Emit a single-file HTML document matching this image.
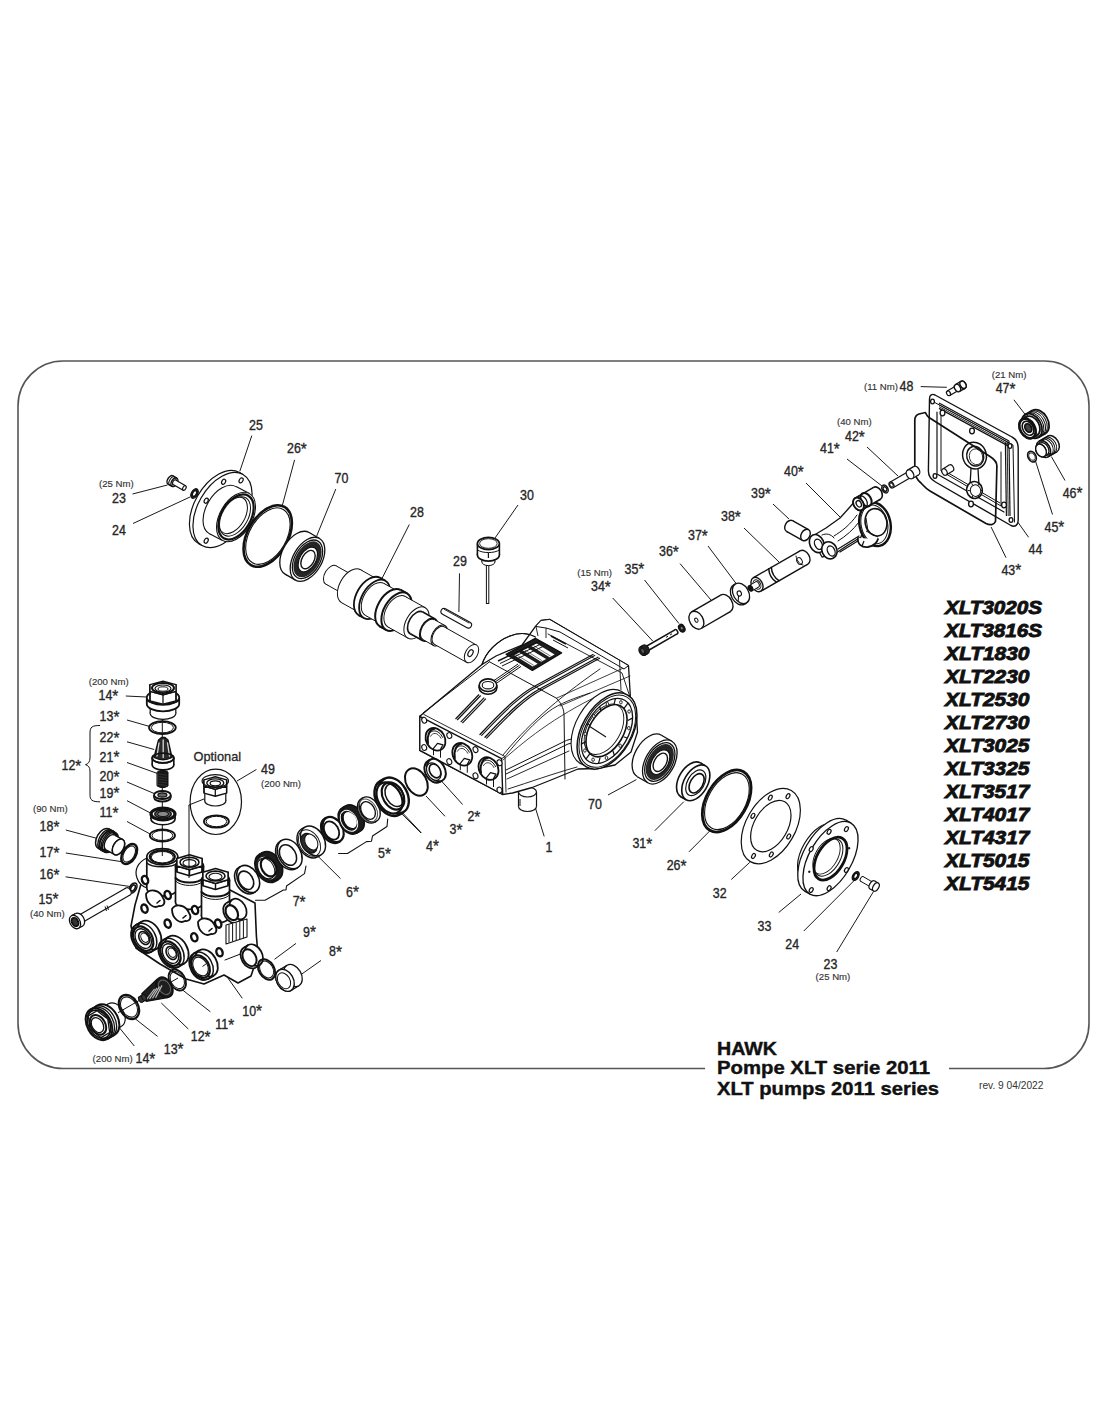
<!DOCTYPE html>
<html><head><meta charset="utf-8"><style>
html,body{margin:0;padding:0;background:#fff;width:1100px;height:1422px;overflow:hidden}
svg{position:absolute;left:0;top:0;display:block}
text{font-family:"Liberation Sans",sans-serif}
</style></head><body>
<svg width="1100" height="1422" viewBox="0 0 1100 1422">
<path d="M705,1068.5 H63 A45,45 0 0 1 18,1023.5 V406 A45,45 0 0 1 63,361 H1044.5 A44.5,44.5 0 0 1 1089,405.5 V1023.5 A45,45 0 0 1 1044,1068.5 H949" fill="none" stroke="#555" stroke-width="1.6"/>
<line x1="251.8" y1="435.6" x2="239.8" y2="471.3" stroke="#1a1a1a" stroke-width="1.0"/>
<line x1="294.6" y1="459.8" x2="282.3" y2="505.6" stroke="#1a1a1a" stroke-width="1.0"/>
<line x1="335.8" y1="489.0" x2="316.7" y2="536.0" stroke="#1a1a1a" stroke-width="1.0"/>
<line x1="132.5" y1="494.0" x2="167.5" y2="485.0" stroke="#1a1a1a" stroke-width="1.0"/>
<line x1="133.0" y1="523.5" x2="190.0" y2="497.0" stroke="#1a1a1a" stroke-width="1.0"/>
<line x1="409.3" y1="524.5" x2="380.5" y2="581.4" stroke="#1a1a1a" stroke-width="1.0"/>
<line x1="518.0" y1="505.0" x2="495.0" y2="538.0" stroke="#1a1a1a" stroke-width="1.0"/>
<line x1="459.5" y1="573.4" x2="458.9" y2="612.0" stroke="#1a1a1a" stroke-width="1.0"/>
<line x1="612.7" y1="598.0" x2="652.7" y2="641.0" stroke="#1a1a1a" stroke-width="1.0"/>
<line x1="644.5" y1="580.0" x2="679.0" y2="623.6" stroke="#1a1a1a" stroke-width="1.0"/>
<line x1="680.0" y1="563.6" x2="711.0" y2="600.0" stroke="#1a1a1a" stroke-width="1.0"/>
<line x1="708.0" y1="546.0" x2="738.0" y2="586.0" stroke="#1a1a1a" stroke-width="1.0"/>
<line x1="744.0" y1="528.0" x2="779.0" y2="562.0" stroke="#1a1a1a" stroke-width="1.0"/>
<line x1="773.0" y1="504.0" x2="789.0" y2="519.0" stroke="#1a1a1a" stroke-width="1.0"/>
<line x1="806.0" y1="483.0" x2="840.0" y2="517.0" stroke="#1a1a1a" stroke-width="1.0"/>
<line x1="847.0" y1="459.0" x2="882.0" y2="486.0" stroke="#1a1a1a" stroke-width="1.0"/>
<line x1="867.0" y1="447.0" x2="898.0" y2="476.0" stroke="#1a1a1a" stroke-width="1.0"/>
<line x1="920.7" y1="386.6" x2="946.8" y2="387.3" stroke="#1a1a1a" stroke-width="1.0"/>
<line x1="1013.9" y1="399.8" x2="1025.2" y2="414.5" stroke="#1a1a1a" stroke-width="1.0"/>
<line x1="1065.0" y1="480.5" x2="1051.4" y2="456.6" stroke="#1a1a1a" stroke-width="1.0"/>
<line x1="1052.5" y1="514.5" x2="1035.5" y2="461.0" stroke="#1a1a1a" stroke-width="1.0"/>
<line x1="1028.6" y1="537.3" x2="1017.3" y2="521.4" stroke="#1a1a1a" stroke-width="1.0"/>
<line x1="1006.0" y1="557.7" x2="991.1" y2="527.0" stroke="#1a1a1a" stroke-width="1.0"/>
<line x1="534.7" y1="805.6" x2="544.2" y2="836.4" stroke="#1a1a1a" stroke-width="1.0"/>
<line x1="608.0" y1="795.0" x2="636.4" y2="779.6" stroke="#1a1a1a" stroke-width="1.0"/>
<line x1="462.6" y1="804.5" x2="440.2" y2="779.6" stroke="#1a1a1a" stroke-width="1.0"/>
<line x1="445.0" y1="816.3" x2="426.0" y2="796.0" stroke="#1a1a1a" stroke-width="1.0"/>
<line x1="421.3" y1="832.8" x2="402.4" y2="812.7" stroke="#1a1a1a" stroke-width="1.0"/>
<line x1="654.8" y1="830.7" x2="683.8" y2="801.7" stroke="#1a1a1a" stroke-width="1.0"/>
<line x1="689.0" y1="851.8" x2="710.0" y2="830.7" stroke="#1a1a1a" stroke-width="1.0"/>
<line x1="731.3" y1="879.5" x2="749.7" y2="862.4" stroke="#1a1a1a" stroke-width="1.0"/>
<line x1="778.7" y1="912.5" x2="801.0" y2="894.0" stroke="#1a1a1a" stroke-width="1.0"/>
<line x1="803.8" y1="931.0" x2="853.9" y2="880.8" stroke="#1a1a1a" stroke-width="1.0"/>
<line x1="836.7" y1="952.0" x2="873.6" y2="891.4" stroke="#1a1a1a" stroke-width="1.0"/>
<line x1="125.8" y1="696.0" x2="146.6" y2="697.0" stroke="#1a1a1a" stroke-width="1.0"/>
<line x1="127.0" y1="720.0" x2="149.8" y2="726.5" stroke="#1a1a1a" stroke-width="1.0"/>
<line x1="127.0" y1="741.8" x2="154.2" y2="749.5" stroke="#1a1a1a" stroke-width="1.0"/>
<line x1="127.0" y1="762.5" x2="157.5" y2="773.5" stroke="#1a1a1a" stroke-width="1.0"/>
<line x1="127.0" y1="782.0" x2="155.3" y2="794.0" stroke="#1a1a1a" stroke-width="1.0"/>
<line x1="127.0" y1="800.7" x2="152.0" y2="813.8" stroke="#1a1a1a" stroke-width="1.0"/>
<line x1="127.0" y1="821.5" x2="151.0" y2="834.5" stroke="#1a1a1a" stroke-width="1.0"/>
<line x1="256.4" y1="769.5" x2="237.0" y2="781.0" stroke="#1a1a1a" stroke-width="1.0"/>
<line x1="65.8" y1="830.0" x2="103.0" y2="840.0" stroke="#1a1a1a" stroke-width="1.0"/>
<line x1="65.8" y1="853.0" x2="122.5" y2="861.8" stroke="#1a1a1a" stroke-width="1.0"/>
<line x1="65.6" y1="876.8" x2="130.6" y2="886.6" stroke="#1a1a1a" stroke-width="1.0"/>
<line x1="340.5" y1="878.6" x2="317.7" y2="856.0" stroke="#1a1a1a" stroke-width="1.0"/>
<line x1="421.0" y1="833.0" x2="399.5" y2="811.6" stroke="#1a1a1a" stroke-width="1.0"/>
<line x1="296.0" y1="943.4" x2="274.5" y2="959.3" stroke="#1a1a1a" stroke-width="1.0"/>
<line x1="321.0" y1="960.5" x2="298.4" y2="976.4" stroke="#1a1a1a" stroke-width="1.0"/>
<line x1="242.3" y1="998.3" x2="224.0" y2="972.5" stroke="#1a1a1a" stroke-width="1.0"/>
<line x1="210.4" y1="1011.8" x2="182.2" y2="989.7" stroke="#1a1a1a" stroke-width="1.0"/>
<line x1="188.3" y1="1029.0" x2="161.3" y2="1003.0" stroke="#1a1a1a" stroke-width="1.0"/>
<line x1="157.6" y1="1036.4" x2="135.5" y2="1019.0" stroke="#1a1a1a" stroke-width="1.0"/>
<line x1="134.3" y1="1046.0" x2="118.4" y2="1026.5" stroke="#1a1a1a" stroke-width="1.0"/>
<text transform="translate(249.0,429.5) scale(0.9,1)" font-size="13.8" fill="#262626" stroke="#262626" stroke-width="0.35">25</text>
<text transform="translate(287.0,453.0) scale(0.9,1)" font-size="13.8" fill="#262626" stroke="#262626" stroke-width="0.35">26<tspan font-size="17" dy="1.6">*</tspan></text>
<text transform="translate(334.5,482.7) scale(0.9,1)" font-size="13.8" fill="#262626" stroke="#262626" stroke-width="0.35">70</text>
<text transform="translate(112.0,503.0) scale(0.9,1)" font-size="13.8" fill="#262626" stroke="#262626" stroke-width="0.35">23</text>
<text transform="translate(112.0,534.6) scale(0.9,1)" font-size="13.8" fill="#262626" stroke="#262626" stroke-width="0.35">24</text>
<text transform="translate(410.0,516.6) scale(0.9,1)" font-size="13.8" fill="#262626" stroke="#262626" stroke-width="0.35">28</text>
<text transform="translate(520.0,499.5) scale(0.9,1)" font-size="13.8" fill="#262626" stroke="#262626" stroke-width="0.35">30</text>
<text transform="translate(453.0,565.5) scale(0.9,1)" font-size="13.8" fill="#262626" stroke="#262626" stroke-width="0.35">29</text>
<text transform="translate(591.0,591.0) scale(0.9,1)" font-size="13.8" fill="#262626" stroke="#262626" stroke-width="0.35">34<tspan font-size="17" dy="1.6">*</tspan></text>
<text transform="translate(624.5,573.6) scale(0.9,1)" font-size="13.8" fill="#262626" stroke="#262626" stroke-width="0.35">35<tspan font-size="17" dy="1.6">*</tspan></text>
<text transform="translate(659.0,556.4) scale(0.9,1)" font-size="13.8" fill="#262626" stroke="#262626" stroke-width="0.35">36<tspan font-size="17" dy="1.6">*</tspan></text>
<text transform="translate(688.0,540.0) scale(0.9,1)" font-size="13.8" fill="#262626" stroke="#262626" stroke-width="0.35">37<tspan font-size="17" dy="1.6">*</tspan></text>
<text transform="translate(721.0,521.0) scale(0.9,1)" font-size="13.8" fill="#262626" stroke="#262626" stroke-width="0.35">38<tspan font-size="17" dy="1.6">*</tspan></text>
<text transform="translate(751.0,498.0) scale(0.9,1)" font-size="13.8" fill="#262626" stroke="#262626" stroke-width="0.35">39<tspan font-size="17" dy="1.6">*</tspan></text>
<text transform="translate(784.0,476.0) scale(0.9,1)" font-size="13.8" fill="#262626" stroke="#262626" stroke-width="0.35">40<tspan font-size="17" dy="1.6">*</tspan></text>
<text transform="translate(820.0,453.0) scale(0.9,1)" font-size="13.8" fill="#262626" stroke="#262626" stroke-width="0.35">41<tspan font-size="17" dy="1.6">*</tspan></text>
<text transform="translate(845.0,441.0) scale(0.9,1)" font-size="13.8" fill="#262626" stroke="#262626" stroke-width="0.35">42<tspan font-size="17" dy="1.6">*</tspan></text>
<text transform="translate(899.5,390.7) scale(0.9,1)" font-size="13.8" fill="#262626" stroke="#262626" stroke-width="0.35">48</text>
<text transform="translate(995.7,393.0) scale(0.9,1)" font-size="13.8" fill="#262626" stroke="#262626" stroke-width="0.35">47<tspan font-size="17" dy="1.6">*</tspan></text>
<text transform="translate(1062.7,497.5) scale(0.9,1)" font-size="13.8" fill="#262626" stroke="#262626" stroke-width="0.35">46<tspan font-size="17" dy="1.6">*</tspan></text>
<text transform="translate(1044.5,531.6) scale(0.9,1)" font-size="13.8" fill="#262626" stroke="#262626" stroke-width="0.35">45<tspan font-size="17" dy="1.6">*</tspan></text>
<text transform="translate(1028.6,554.3) scale(0.9,1)" font-size="13.8" fill="#262626" stroke="#262626" stroke-width="0.35">44</text>
<text transform="translate(1001.4,574.8) scale(0.9,1)" font-size="13.8" fill="#262626" stroke="#262626" stroke-width="0.35">43<tspan font-size="17" dy="1.6">*</tspan></text>
<text transform="translate(545.4,851.7) scale(0.9,1)" font-size="13.8" fill="#262626" stroke="#262626" stroke-width="0.35">1</text>
<text transform="translate(588.0,809.0) scale(0.9,1)" font-size="13.8" fill="#262626" stroke="#262626" stroke-width="0.35">70</text>
<text transform="translate(467.4,821.0) scale(0.9,1)" font-size="13.8" fill="#262626" stroke="#262626" stroke-width="0.35">2<tspan font-size="17" dy="1.6">*</tspan></text>
<text transform="translate(449.6,834.0) scale(0.9,1)" font-size="13.8" fill="#262626" stroke="#262626" stroke-width="0.35">3<tspan font-size="17" dy="1.6">*</tspan></text>
<text transform="translate(426.0,850.5) scale(0.9,1)" font-size="13.8" fill="#262626" stroke="#262626" stroke-width="0.35">4<tspan font-size="17" dy="1.6">*</tspan></text>
<text transform="translate(632.4,848.0) scale(0.9,1)" font-size="13.8" fill="#262626" stroke="#262626" stroke-width="0.35">31<tspan font-size="17" dy="1.6">*</tspan></text>
<text transform="translate(666.7,870.3) scale(0.9,1)" font-size="13.8" fill="#262626" stroke="#262626" stroke-width="0.35">26<tspan font-size="17" dy="1.6">*</tspan></text>
<text transform="translate(712.8,898.0) scale(0.9,1)" font-size="13.8" fill="#262626" stroke="#262626" stroke-width="0.35">32</text>
<text transform="translate(757.6,931.0) scale(0.9,1)" font-size="13.8" fill="#262626" stroke="#262626" stroke-width="0.35">33</text>
<text transform="translate(785.3,949.4) scale(0.9,1)" font-size="13.8" fill="#262626" stroke="#262626" stroke-width="0.35">24</text>
<text transform="translate(823.5,969.1) scale(0.9,1)" font-size="13.8" fill="#262626" stroke="#262626" stroke-width="0.35">23</text>
<text transform="translate(98.5,700.4) scale(0.9,1)" font-size="13.8" fill="#262626" stroke="#262626" stroke-width="0.35">14<tspan font-size="17" dy="1.6">*</tspan></text>
<text transform="translate(99.6,721.0) scale(0.9,1)" font-size="13.8" fill="#262626" stroke="#262626" stroke-width="0.35">13<tspan font-size="17" dy="1.6">*</tspan></text>
<text transform="translate(99.6,742.0) scale(0.9,1)" font-size="13.8" fill="#262626" stroke="#262626" stroke-width="0.35">22<tspan font-size="17" dy="1.6">*</tspan></text>
<text transform="translate(99.6,761.5) scale(0.9,1)" font-size="13.8" fill="#262626" stroke="#262626" stroke-width="0.35">21<tspan font-size="17" dy="1.6">*</tspan></text>
<text transform="translate(99.6,781.0) scale(0.9,1)" font-size="13.8" fill="#262626" stroke="#262626" stroke-width="0.35">20<tspan font-size="17" dy="1.6">*</tspan></text>
<text transform="translate(99.6,797.5) scale(0.9,1)" font-size="13.8" fill="#262626" stroke="#262626" stroke-width="0.35">19<tspan font-size="17" dy="1.6">*</tspan></text>
<text transform="translate(99.6,817.0) scale(0.9,1)" font-size="13.8" fill="#262626" stroke="#262626" stroke-width="0.35">11<tspan font-size="17" dy="1.6">*</tspan></text>
<text transform="translate(61.5,770.0) scale(0.9,1)" font-size="13.8" fill="#262626" stroke="#262626" stroke-width="0.35">12<tspan font-size="17" dy="1.6">*</tspan></text>
<text transform="translate(261.0,774.0) scale(0.9,1)" font-size="13.8" fill="#262626" stroke="#262626" stroke-width="0.35">49</text>
<text transform="translate(39.6,831.3) scale(0.9,1)" font-size="13.8" fill="#262626" stroke="#262626" stroke-width="0.35">18<tspan font-size="17" dy="1.6">*</tspan></text>
<text transform="translate(39.6,857.0) scale(0.9,1)" font-size="13.8" fill="#262626" stroke="#262626" stroke-width="0.35">17<tspan font-size="17" dy="1.6">*</tspan></text>
<text transform="translate(39.6,879.0) scale(0.9,1)" font-size="13.8" fill="#262626" stroke="#262626" stroke-width="0.35">16<tspan font-size="17" dy="1.6">*</tspan></text>
<text transform="translate(38.6,903.8) scale(0.9,1)" font-size="13.8" fill="#262626" stroke="#262626" stroke-width="0.35">15<tspan font-size="17" dy="1.6">*</tspan></text>
<text transform="translate(292.7,906.0) scale(0.9,1)" font-size="13.8" fill="#262626" stroke="#262626" stroke-width="0.35">7<tspan font-size="17" dy="1.6">*</tspan></text>
<text transform="translate(346.0,896.8) scale(0.9,1)" font-size="13.8" fill="#262626" stroke="#262626" stroke-width="0.35">6<tspan font-size="17" dy="1.6">*</tspan></text>
<text transform="translate(378.0,858.0) scale(0.9,1)" font-size="13.8" fill="#262626" stroke="#262626" stroke-width="0.35">5<tspan font-size="17" dy="1.6">*</tspan></text>
<text transform="translate(303.0,936.6) scale(0.9,1)" font-size="13.8" fill="#262626" stroke="#262626" stroke-width="0.35">9<tspan font-size="17" dy="1.6">*</tspan></text>
<text transform="translate(329.0,956.0) scale(0.9,1)" font-size="13.8" fill="#262626" stroke="#262626" stroke-width="0.35">8<tspan font-size="17" dy="1.6">*</tspan></text>
<text transform="translate(242.3,1015.5) scale(0.9,1)" font-size="13.8" fill="#262626" stroke="#262626" stroke-width="0.35">10<tspan font-size="17" dy="1.6">*</tspan></text>
<text transform="translate(215.3,1029.0) scale(0.9,1)" font-size="13.8" fill="#262626" stroke="#262626" stroke-width="0.35">11<tspan font-size="17" dy="1.6">*</tspan></text>
<text transform="translate(190.8,1041.0) scale(0.9,1)" font-size="13.8" fill="#262626" stroke="#262626" stroke-width="0.35">12<tspan font-size="17" dy="1.6">*</tspan></text>
<text transform="translate(163.8,1053.5) scale(0.9,1)" font-size="13.8" fill="#262626" stroke="#262626" stroke-width="0.35">13<tspan font-size="17" dy="1.6">*</tspan></text>
<text transform="translate(135.5,1063.4) scale(0.9,1)" font-size="13.8" fill="#262626" stroke="#262626" stroke-width="0.35">14<tspan font-size="17" dy="1.6">*</tspan></text>
<text transform="translate(99.0,486.5) scale(0.97,1)" font-size="9.9" fill="#333" stroke="#333" stroke-width="0.15">(25 Nm)</text>
<text transform="translate(577.3,576.4) scale(0.97,1)" font-size="9.9" fill="#333" stroke="#333" stroke-width="0.15">(15 Nm)</text>
<text transform="translate(837.0,425.0) scale(0.97,1)" font-size="9.9" fill="#333" stroke="#333" stroke-width="0.15">(40 Nm)</text>
<text transform="translate(864.0,389.5) scale(0.97,1)" font-size="9.9" fill="#333" stroke="#333" stroke-width="0.15">(11 Nm)</text>
<text transform="translate(991.8,378.2) scale(0.97,1)" font-size="9.9" fill="#333" stroke="#333" stroke-width="0.15">(21 Nm)</text>
<text transform="translate(815.6,979.7) scale(0.97,1)" font-size="9.9" fill="#333" stroke="#333" stroke-width="0.15">(25 Nm)</text>
<text transform="translate(88.7,685.0) scale(0.97,1)" font-size="9.9" fill="#333" stroke="#333" stroke-width="0.15">(200 Nm)</text>
<text transform="translate(261.0,786.6) scale(0.97,1)" font-size="9.9" fill="#333" stroke="#333" stroke-width="0.15">(200 Nm)</text>
<text transform="translate(33.0,811.6) scale(0.97,1)" font-size="9.9" fill="#333" stroke="#333" stroke-width="0.15">(90 Nm)</text>
<text transform="translate(30.0,917.3) scale(0.97,1)" font-size="9.9" fill="#333" stroke="#333" stroke-width="0.15">(40 Nm)</text>
<text transform="translate(92.6,1062.0) scale(0.97,1)" font-size="9.9" fill="#333" stroke="#333" stroke-width="0.15">(200 Nm)</text>
<text transform="translate(193.5,760.5) scale(0.94,1)" font-size="13.6" fill="#262626" stroke="#262626" stroke-width="0.3">Optional</text>
<text x="945" y="614.2" font-size="19.2" font-weight="bold" font-style="italic" fill="#111" stroke="#111" stroke-width="0.9" textLength="97" lengthAdjust="spacingAndGlyphs">XLT3020S</text>
<text x="945" y="637.2" font-size="19.2" font-weight="bold" font-style="italic" fill="#111" stroke="#111" stroke-width="0.9" textLength="97" lengthAdjust="spacingAndGlyphs">XLT3816S</text>
<text x="945" y="660.1" font-size="19.2" font-weight="bold" font-style="italic" fill="#111" stroke="#111" stroke-width="0.9" textLength="84.5" lengthAdjust="spacingAndGlyphs">XLT1830</text>
<text x="945" y="683.1" font-size="19.2" font-weight="bold" font-style="italic" fill="#111" stroke="#111" stroke-width="0.9" textLength="84.5" lengthAdjust="spacingAndGlyphs">XLT2230</text>
<text x="945" y="706.1" font-size="19.2" font-weight="bold" font-style="italic" fill="#111" stroke="#111" stroke-width="0.9" textLength="84.5" lengthAdjust="spacingAndGlyphs">XLT2530</text>
<text x="945" y="729.1" font-size="19.2" font-weight="bold" font-style="italic" fill="#111" stroke="#111" stroke-width="0.9" textLength="84.5" lengthAdjust="spacingAndGlyphs">XLT2730</text>
<text x="945" y="752.0" font-size="19.2" font-weight="bold" font-style="italic" fill="#111" stroke="#111" stroke-width="0.9" textLength="84.5" lengthAdjust="spacingAndGlyphs">XLT3025</text>
<text x="945" y="775.0" font-size="19.2" font-weight="bold" font-style="italic" fill="#111" stroke="#111" stroke-width="0.9" textLength="84.5" lengthAdjust="spacingAndGlyphs">XLT3325</text>
<text x="945" y="798.0" font-size="19.2" font-weight="bold" font-style="italic" fill="#111" stroke="#111" stroke-width="0.9" textLength="84.5" lengthAdjust="spacingAndGlyphs">XLT3517</text>
<text x="945" y="820.9" font-size="19.2" font-weight="bold" font-style="italic" fill="#111" stroke="#111" stroke-width="0.9" textLength="84.5" lengthAdjust="spacingAndGlyphs">XLT4017</text>
<text x="945" y="843.9" font-size="19.2" font-weight="bold" font-style="italic" fill="#111" stroke="#111" stroke-width="0.9" textLength="84.5" lengthAdjust="spacingAndGlyphs">XLT4317</text>
<text x="945" y="866.9" font-size="19.2" font-weight="bold" font-style="italic" fill="#111" stroke="#111" stroke-width="0.9" textLength="84.5" lengthAdjust="spacingAndGlyphs">XLT5015</text>
<text x="945" y="889.8" font-size="19.2" font-weight="bold" font-style="italic" fill="#111" stroke="#111" stroke-width="0.9" textLength="84.5" lengthAdjust="spacingAndGlyphs">XLT5415</text>
<text x="717" y="1055" font-size="18.5" font-weight="bold" fill="#111" stroke="#111" stroke-width="0.4" textLength="60" lengthAdjust="spacingAndGlyphs">HAWK</text>
<text x="717" y="1074" font-size="18.5" font-weight="bold" fill="#111" stroke="#111" stroke-width="0.4" textLength="213" lengthAdjust="spacingAndGlyphs">Pompe XLT serie 2011</text>
<text x="717" y="1094.5" font-size="18.5" font-weight="bold" fill="#111" stroke="#111" stroke-width="0.4" textLength="222" lengthAdjust="spacingAndGlyphs">XLT pumps 2011 series</text>
<text x="979.0" y="1089.0" font-size="10.2" fill="#333">rev. 9 04/2022</text>
<ellipse cx="170.5" cy="480.0" rx="4.8" ry="2.9" transform="rotate(-60 170.5 480.0)" fill="#fff" stroke="#111" stroke-width="1.5"/><path d="M172.9,475.8 L176.8,478.1 L172.0,486.4 L168.1,484.2 Z" fill="#fff"/><line x1="172.9" y1="475.8" x2="176.8" y2="478.1" stroke="#111" stroke-width="1.5"/><line x1="168.1" y1="484.2" x2="172.0" y2="486.4" stroke="#111" stroke-width="1.5"/><ellipse cx="174.4" cy="482.2" rx="4.8" ry="2.9" transform="rotate(-60 174.4 482.2)" fill="#fff" stroke="#111" stroke-width="1.5"/>
<ellipse cx="172.4" cy="481.1" rx="4.8" ry="2.9" transform="rotate(-60 172.4 481.1)" fill="none" stroke="#111" stroke-width="1.0"/>
<ellipse cx="174.4" cy="482.2" rx="2.5" ry="1.5" transform="rotate(-60 174.4 482.2)" fill="#fff" stroke="#111" stroke-width="1.2"/><path d="M175.6,480.1 L185.6,485.8 L183.1,490.2 L173.1,484.4 Z" fill="#fff"/><line x1="175.6" y1="480.1" x2="185.6" y2="485.8" stroke="#111" stroke-width="1.2"/><line x1="173.1" y1="484.4" x2="183.1" y2="490.2" stroke="#111" stroke-width="1.2"/><ellipse cx="184.4" cy="488.0" rx="2.5" ry="1.5" transform="rotate(-60 184.4 488.0)" fill="#fff" stroke="#111" stroke-width="1.2"/>
<ellipse cx="194.5" cy="493.5" rx="5.2" ry="3.1" transform="rotate(-60 194.5 493.5)" fill="#222" stroke="#111" stroke-width="1.3"/><ellipse cx="194.5" cy="493.5" rx="3.0" ry="1.8" transform="rotate(-60 194.5 493.5)" fill="#fff" stroke="#111" stroke-width="1.3"/>
<ellipse cx="219.0" cy="508.0" rx="41.0" ry="24.6" transform="rotate(-60 219.0 508.0)" fill="#fff" stroke="#111" stroke-width="1.2"/><path d="M239.5,472.5 L243.0,474.5 L202.0,545.5 L198.5,543.5 Z" fill="#fff"/><line x1="239.5" y1="472.5" x2="243.0" y2="474.5" stroke="#111" stroke-width="1.2"/><line x1="198.5" y1="543.5" x2="202.0" y2="545.5" stroke="#111" stroke-width="1.2"/><ellipse cx="222.5" cy="510.0" rx="41.0" ry="24.6" transform="rotate(-60 222.5 510.0)" fill="#fff" stroke="#111" stroke-width="1.2"/>
<ellipse cx="223.6" cy="481.8" rx="2.7" ry="1.8" transform="rotate(-60 223.6 481.8)" fill="#fff" stroke="#111" stroke-width="1.2"/>
<ellipse cx="241.1" cy="480.4" rx="2.7" ry="1.8" transform="rotate(-60 241.1 480.4)" fill="#fff" stroke="#111" stroke-width="1.2"/>
<ellipse cx="206.2" cy="500.7" rx="2.7" ry="1.8" transform="rotate(-60 206.2 500.7)" fill="#fff" stroke="#111" stroke-width="1.2"/>
<ellipse cx="206.2" cy="540.7" rx="2.7" ry="1.8" transform="rotate(-60 206.2 540.7)" fill="#fff" stroke="#111" stroke-width="1.2"/>
<ellipse cx="222.5" cy="510.0" rx="27.0" ry="16.2" transform="rotate(-60 222.5 510.0)" fill="#fff" stroke="#111" stroke-width="1.1"/><path d="M236.0,486.6 L249.5,493.6 L222.5,540.4 L209.0,533.4 Z" fill="#fff"/><line x1="236.0" y1="486.6" x2="249.5" y2="493.6" stroke="#111" stroke-width="1.1"/><line x1="209.0" y1="533.4" x2="222.5" y2="540.4" stroke="#111" stroke-width="1.1"/><ellipse cx="236.0" cy="517.0" rx="27.0" ry="16.2" transform="rotate(-60 236.0 517.0)" fill="#fff" stroke="#111" stroke-width="1.1"/>
<ellipse cx="236.0" cy="517.0" rx="24.5" ry="14.7" transform="rotate(-60 236.0 517.0)" fill="#fff" stroke="#111" stroke-width="2.2"/>
<ellipse cx="235.0" cy="516.4" rx="21.5" ry="12.9" transform="rotate(-60 235.0 516.4)" fill="#fff" stroke="#111" stroke-width="1.0"/>
<ellipse cx="233.0" cy="515.3" rx="20.0" ry="12.0" transform="rotate(-60 233.0 515.3)" fill="none" stroke="#111" stroke-width="1.0"/>
<ellipse cx="267.7" cy="536.0" rx="33.5" ry="20.1" transform="rotate(-60 267.7 536.0)" fill="none" stroke="#111" stroke-width="2.6"/>
<ellipse cx="267.9" cy="536.1" rx="30.8" ry="18.5" transform="rotate(-60 267.9 536.1)" fill="none" stroke="#111" stroke-width="1.1"/>
<ellipse cx="297.1" cy="553.3" rx="24.0" ry="14.4" transform="rotate(-60 297.1 553.3)" fill="#fff" stroke="#111" stroke-width="1.3"/><path d="M309.1,532.5 L319.5,538.5 L295.5,580.1 L285.1,574.1 Z" fill="#fff"/><line x1="309.1" y1="532.5" x2="319.5" y2="538.5" stroke="#111" stroke-width="1.3"/><line x1="285.1" y1="574.1" x2="295.5" y2="580.1" stroke="#111" stroke-width="1.3"/><ellipse cx="307.5" cy="559.3" rx="24.0" ry="14.4" transform="rotate(-60 307.5 559.3)" fill="#fff" stroke="#111" stroke-width="1.3"/>
<ellipse cx="307.5" cy="559.3" rx="21.0" ry="12.6" transform="rotate(-60 307.5 559.3)" fill="#fff" stroke="#111" stroke-width="1.3"/>
<ellipse cx="307.5" cy="559.3" rx="19.5" ry="11.7" transform="rotate(-60 307.5 559.3)" fill="#262626"/>
<ellipse cx="307.8" cy="559.5" rx="13.5" ry="8.1" transform="rotate(-60 307.8 559.5)" fill="#fff" stroke="#111" stroke-width="1.2"/>
<ellipse cx="308.0" cy="559.6" rx="10.0" ry="6.0" transform="rotate(-60 308.0 559.6)" fill="#fff" stroke="#111" stroke-width="1.4"/>
<ellipse cx="331.0" cy="575.0" rx="10.5" ry="6.3" transform="rotate(-60 331.0 575.0)" fill="#fff" stroke="#111" stroke-width="1.0"/><path d="M336.2,565.9 L353.7,575.7 L343.2,593.9 L325.8,584.1 Z" fill="#fff"/><line x1="336.2" y1="565.9" x2="353.7" y2="575.7" stroke="#111" stroke-width="1.0"/><line x1="325.8" y1="584.1" x2="343.2" y2="593.9" stroke="#111" stroke-width="1.0"/><ellipse cx="348.5" cy="584.8" rx="10.5" ry="6.3" transform="rotate(-60 348.5 584.8)" fill="#fff" stroke="#111" stroke-width="1.0"/>
<ellipse cx="348.5" cy="584.8" rx="12.5" ry="7.5" transform="rotate(-60 348.5 584.8)" fill="#fff" stroke="#111" stroke-width="2.0"/><path d="M354.7,573.9 L357.3,575.4 L344.8,597.1 L342.2,595.6 Z" fill="#fff"/><line x1="354.7" y1="573.9" x2="357.3" y2="575.4" stroke="#111" stroke-width="2.0"/><line x1="342.2" y1="595.6" x2="344.8" y2="597.1" stroke="#111" stroke-width="2.0"/><ellipse cx="351.1" cy="586.2" rx="12.5" ry="7.5" transform="rotate(-60 351.1 586.2)" fill="#fff" stroke="#111" stroke-width="2.0"/>
<ellipse cx="351.1" cy="586.2" rx="19.0" ry="11.4" transform="rotate(-60 351.1 586.2)" fill="#fff" stroke="#111" stroke-width="1.0"/><path d="M360.6,569.8 L378.9,580.0 L359.9,612.9 L341.6,602.7 Z" fill="#fff"/><line x1="360.6" y1="569.8" x2="378.9" y2="580.0" stroke="#111" stroke-width="1.0"/><line x1="341.6" y1="602.7" x2="359.9" y2="612.9" stroke="#111" stroke-width="1.0"/><ellipse cx="369.4" cy="596.5" rx="19.0" ry="11.4" transform="rotate(-60 369.4 596.5)" fill="#fff" stroke="#111" stroke-width="1.0"/>
<ellipse cx="369.4" cy="596.5" rx="21.5" ry="12.9" transform="rotate(-60 369.4 596.5)" fill="#fff" stroke="#111" stroke-width="1.8"/><path d="M380.1,577.9 L385.4,580.8 L363.9,618.0 L358.6,615.1 Z" fill="#fff"/><line x1="380.1" y1="577.9" x2="385.4" y2="580.8" stroke="#111" stroke-width="1.8"/><line x1="358.6" y1="615.1" x2="363.9" y2="618.0" stroke="#111" stroke-width="1.8"/><ellipse cx="374.6" cy="599.4" rx="21.5" ry="12.9" transform="rotate(-60 374.6 599.4)" fill="#fff" stroke="#111" stroke-width="1.8"/>
<ellipse cx="374.6" cy="599.4" rx="18.5" ry="11.1" transform="rotate(-60 374.6 599.4)" fill="#fff" stroke="#111" stroke-width="1.0"/><path d="M383.9,583.4 L399.6,592.2 L381.1,624.2 L365.4,615.4 Z" fill="#fff"/><line x1="383.9" y1="583.4" x2="399.6" y2="592.2" stroke="#111" stroke-width="1.0"/><line x1="365.4" y1="615.4" x2="381.1" y2="624.2" stroke="#111" stroke-width="1.0"/><ellipse cx="390.3" cy="608.2" rx="18.5" ry="11.1" transform="rotate(-60 390.3 608.2)" fill="#fff" stroke="#111" stroke-width="1.0"/>
<ellipse cx="390.3" cy="608.2" rx="21.0" ry="12.6" transform="rotate(-60 390.3 608.2)" fill="#fff" stroke="#111" stroke-width="2.0"/><path d="M400.8,590.0 L407.0,593.4 L386.0,629.8 L379.8,626.4 Z" fill="#fff"/><line x1="400.8" y1="590.0" x2="407.0" y2="593.4" stroke="#111" stroke-width="2.0"/><line x1="379.8" y1="626.4" x2="386.0" y2="629.8" stroke="#111" stroke-width="2.0"/><ellipse cx="396.5" cy="611.6" rx="21.0" ry="12.6" transform="rotate(-60 396.5 611.6)" fill="#fff" stroke="#111" stroke-width="2.0"/>
<ellipse cx="396.5" cy="611.6" rx="17.5" ry="10.5" transform="rotate(-60 396.5 611.6)" fill="#fff" stroke="#111" stroke-width="1.0"/><path d="M405.2,596.5 L425.3,607.7 L407.8,638.0 L387.7,626.8 Z" fill="#fff"/><line x1="405.2" y1="596.5" x2="425.3" y2="607.7" stroke="#111" stroke-width="1.0"/><line x1="387.7" y1="626.8" x2="407.8" y2="638.0" stroke="#111" stroke-width="1.0"/><ellipse cx="416.5" cy="622.9" rx="17.5" ry="10.5" transform="rotate(-60 416.5 622.9)" fill="#fff" stroke="#111" stroke-width="1.0"/>
<ellipse cx="416.5" cy="622.9" rx="12.5" ry="7.5" transform="rotate(-60 416.5 622.9)" fill="#fff" stroke="#111" stroke-width="1.6"/><path d="M422.8,612.0 L435.0,618.9 L422.5,640.5 L410.3,633.7 Z" fill="#fff"/><line x1="422.8" y1="612.0" x2="435.0" y2="618.9" stroke="#111" stroke-width="1.6"/><line x1="410.3" y1="633.7" x2="422.5" y2="640.5" stroke="#111" stroke-width="1.6"/><ellipse cx="428.7" cy="629.7" rx="12.5" ry="7.5" transform="rotate(-60 428.7 629.7)" fill="#fff" stroke="#111" stroke-width="1.6"/>
<ellipse cx="428.7" cy="629.7" rx="11.5" ry="6.9" transform="rotate(-60 428.7 629.7)" fill="#fff" stroke="#111" stroke-width="1.0"/><path d="M434.5,619.7 L445.0,625.6 L433.5,645.5 L423.0,639.6 Z" fill="#fff"/><line x1="434.5" y1="619.7" x2="445.0" y2="625.6" stroke="#111" stroke-width="1.0"/><line x1="423.0" y1="639.6" x2="433.5" y2="645.5" stroke="#111" stroke-width="1.0"/><ellipse cx="439.2" cy="635.5" rx="11.5" ry="6.9" transform="rotate(-60 439.2 635.5)" fill="#fff" stroke="#111" stroke-width="1.0"/>
<ellipse cx="439.2" cy="635.5" rx="10.0" ry="6.0" transform="rotate(-60 439.2 635.5)" fill="#fff" stroke="#111" stroke-width="1.0"/><path d="M444.2,626.9 L476.5,645.0 L466.5,662.3 L434.2,644.2 Z" fill="#fff"/><line x1="444.2" y1="626.9" x2="476.5" y2="645.0" stroke="#111" stroke-width="1.0"/><line x1="434.2" y1="644.2" x2="466.5" y2="662.3" stroke="#111" stroke-width="1.0"/><ellipse cx="471.5" cy="653.6" rx="10.0" ry="6.0" transform="rotate(-60 471.5 653.6)" fill="#fff" stroke="#111" stroke-width="1.0"/>
<ellipse cx="470.5" cy="653.1" rx="3.6" ry="2.2" transform="rotate(-60 470.5 653.1)" fill="#fff" stroke="#111" stroke-width="1.2"/>
<path d="M444,611.5 L468.5,625" fill="none" stroke="#111" stroke-width="7.2" stroke-linejoin="round" stroke-linecap="round"/>
<path d="M444,611.5 L468.5,625" fill="none" stroke="#fff" stroke-width="5.0" stroke-linejoin="round" stroke-linecap="round"/>
<path d="M444.5,609.5 L469,623" fill="none" stroke="#111" stroke-width="0.9" stroke-linejoin="round" stroke-linecap="round"/>
<line x1="487.6" y1="560.0" x2="487.6" y2="604.0" stroke="#111" stroke-width="3.4"/>
<line x1="487.6" y1="560.0" x2="487.6" y2="603.0" stroke="#fff" stroke-width="1.4"/>
<ellipse cx="488.4" cy="562.0" rx="6.5" ry="3.6" fill="#fff" stroke="#111" stroke-width="1.0"/><path d="M494.9,556.0 L494.9,562.0 L481.9,562.0 L481.9,556.0 Z" fill="#fff"/><line x1="494.9" y1="556.0" x2="494.9" y2="562.0" stroke="#111" stroke-width="1.0"/><line x1="481.9" y1="556.0" x2="481.9" y2="562.0" stroke="#111" stroke-width="1.0"/><ellipse cx="488.4" cy="556.0" rx="6.5" ry="3.6" fill="#fff" stroke="#111" stroke-width="1.0"/>
<ellipse cx="488.4" cy="555.0" rx="11.0" ry="6.1" fill="#fff" stroke="#111" stroke-width="1.6"/><path d="M499.4,543.5 L499.4,555.0 L477.4,555.0 L477.4,543.5 Z" fill="#fff"/><line x1="499.4" y1="543.5" x2="499.4" y2="555.0" stroke="#111" stroke-width="1.6"/><line x1="477.4" y1="543.5" x2="477.4" y2="555.0" stroke="#111" stroke-width="1.6"/><ellipse cx="488.4" cy="543.5" rx="11.0" ry="6.1" fill="#fff" stroke="#111" stroke-width="1.6"/>
<ellipse cx="488.4" cy="543.5" rx="8.8" ry="4.8" fill="none" stroke="#111" stroke-width="0.9"/>
<line x1="488.4" y1="552.5" x2="488.4" y2="558.0" stroke="#111" stroke-width="1.2"/>
<path d="M477.6,550 C482,553.5 495,553.5 499.2,550" fill="none" stroke="#111" stroke-width="1.0" stroke-linejoin="round" stroke-linecap="round"/>
<ellipse cx="527.5" cy="806.5" rx="9.0" ry="5.0" fill="#fff" stroke="#111" stroke-width="1.2"/><path d="M536.5,806.5 L536.5,792.0 L518.5,792.0 L518.5,806.5 Z" fill="#fff"/><line x1="536.5" y1="806.5" x2="536.5" y2="792.0" stroke="#111" stroke-width="1.2"/><line x1="518.5" y1="806.5" x2="518.5" y2="792.0" stroke="#111" stroke-width="1.2"/><ellipse cx="527.5" cy="792.0" rx="9.0" ry="5.0" fill="#fff" stroke="#111" stroke-width="1.2"/>
<line x1="520.0" y1="799.0" x2="520.0" y2="806.0" stroke="#111" stroke-width="1.0"/>
<path d="M482,664.5 C486,652 497,641 510,636 C519,632.5 528,633 534,637" fill="#fff" stroke="#111" stroke-width="1.1" stroke-linejoin="round" stroke-linecap="round"/>
<path d="M419.8,716.3 L482.0,664.5 L496.0,656.0 L522.0,645.0 L535.5,626.4 L541.0,620.5 L549.6,619.4 L619.5,660.2 L628.5,665.6 L630.4,697.3 L636.0,708.0 L637.5,732.0 L631.0,752.0 L615.0,765.0 L597.6,768.5 L578.0,769.0 L551.0,780.0 L532.2,787.5 L512.6,793.0 L502.7,794.5 L419.8,750.4 Z" fill="#fff" stroke="#111" stroke-width="1.3" stroke-linejoin="round"/>
<path d="M482,664.5 C486,652 497,641 510,636 C519,632.5 528,633 535.5,637" fill="none" stroke="#111" stroke-width="1.1" stroke-linejoin="round" stroke-linecap="round"/>
<line x1="423.0" y1="713.0" x2="489.5" y2="661.8" stroke="#111" stroke-width="1.0"/>
<path d="M419.8,716.3 L501.6,758.6 L502.7,794.5 L419.8,750.4 Z" fill="#fff" stroke="#111" stroke-width="1.4" stroke-linejoin="round"/>
<line x1="423.5" y1="714.3" x2="505.0" y2="756.5" stroke="#111" stroke-width="0.9"/>
<line x1="501.6" y1="758.6" x2="505.0" y2="756.5" stroke="#111" stroke-width="0.9"/>
<line x1="505.0" y1="756.5" x2="506.0" y2="792.5" stroke="#111" stroke-width="0.9"/>
<ellipse cx="435.5" cy="739.3" rx="9.4" ry="11.8" transform="rotate(-28 435.5 739.3)" fill="#fff" stroke="#111" stroke-width="1.8"/>
<path d="M428.0,743.3 C426.5,736.3 429.5,729.3 434.5,728.8" fill="none" stroke="#111" stroke-width="2.0" stroke-linejoin="round" stroke-linecap="round"/>
<path d="M428.5,735.3 C430.5,729.3 438.5,728.8 442.5,737.3" fill="none" stroke="#111" stroke-width="1.0" stroke-linejoin="round" stroke-linecap="round"/>
<path d="M430.5,736.3 C432.5,732.3 437.5,731.8 441.0,738.3" fill="none" stroke="#111" stroke-width="0.8" stroke-linejoin="round" stroke-linecap="round"/>
<path d="M433.5,748.3 L437.5,743.3 L443.0,744.8 L440.5,749.3" fill="#fff" stroke="#111" stroke-width="1.2" stroke-linejoin="round" stroke-linecap="round"/>
<path d="M433.5,748.3 L433.5,754.8 M440.5,749.3 L440.5,757.3" fill="none" stroke="#111" stroke-width="1.0" stroke-linejoin="round" stroke-linecap="round"/>
<ellipse cx="462.3" cy="754.3" rx="9.4" ry="11.8" transform="rotate(-28 462.3 754.3)" fill="#fff" stroke="#111" stroke-width="1.8"/>
<path d="M454.8,758.3 C453.3,751.3 456.3,744.3 461.3,743.8" fill="none" stroke="#111" stroke-width="2.0" stroke-linejoin="round" stroke-linecap="round"/>
<path d="M455.3,750.3 C457.3,744.3 465.3,743.8 469.3,752.3" fill="none" stroke="#111" stroke-width="1.0" stroke-linejoin="round" stroke-linecap="round"/>
<path d="M457.3,751.3 C459.3,747.3 464.3,746.8 467.8,753.3" fill="none" stroke="#111" stroke-width="0.8" stroke-linejoin="round" stroke-linecap="round"/>
<path d="M460.3,763.3 L464.3,758.3 L469.8,759.8 L467.3,764.3" fill="#fff" stroke="#111" stroke-width="1.2" stroke-linejoin="round" stroke-linecap="round"/>
<path d="M460.3,763.3 L460.3,769.8 M467.3,764.3 L467.3,772.3" fill="none" stroke="#111" stroke-width="1.0" stroke-linejoin="round" stroke-linecap="round"/>
<ellipse cx="488.5" cy="768.6" rx="9.4" ry="11.8" transform="rotate(-28 488.5 768.6)" fill="#fff" stroke="#111" stroke-width="1.8"/>
<path d="M481.0,772.6 C479.5,765.6 482.5,758.6 487.5,758.1" fill="none" stroke="#111" stroke-width="2.0" stroke-linejoin="round" stroke-linecap="round"/>
<path d="M481.5,764.6 C483.5,758.6 491.5,758.1 495.5,766.6" fill="none" stroke="#111" stroke-width="1.0" stroke-linejoin="round" stroke-linecap="round"/>
<path d="M483.5,765.6 C485.5,761.6 490.5,761.1 494.0,767.6" fill="none" stroke="#111" stroke-width="0.8" stroke-linejoin="round" stroke-linecap="round"/>
<path d="M486.5,777.6 L490.5,772.6 L496.0,774.1 L493.5,778.6" fill="#fff" stroke="#111" stroke-width="1.2" stroke-linejoin="round" stroke-linecap="round"/>
<path d="M486.5,777.6 L486.5,784.1 M493.5,778.6 L493.5,786.6" fill="none" stroke="#111" stroke-width="1.0" stroke-linejoin="round" stroke-linecap="round"/>
<ellipse cx="424.2" cy="720.2" rx="2.4" ry="3.0" transform="rotate(-20 424.2 720.2)" fill="#fff" stroke="#111" stroke-width="1.1"/>
<ellipse cx="424.2" cy="747.5" rx="2.4" ry="3.0" transform="rotate(-20 424.2 747.5)" fill="#fff" stroke="#111" stroke-width="1.1"/>
<ellipse cx="449.3" cy="735.5" rx="2.4" ry="3.0" transform="rotate(-20 449.3 735.5)" fill="#fff" stroke="#111" stroke-width="1.1"/>
<ellipse cx="449.3" cy="761.6" rx="2.4" ry="3.0" transform="rotate(-20 449.3 761.6)" fill="#fff" stroke="#111" stroke-width="1.1"/>
<ellipse cx="475.5" cy="749.6" rx="2.4" ry="3.0" transform="rotate(-20 475.5 749.6)" fill="#fff" stroke="#111" stroke-width="1.1"/>
<ellipse cx="475.5" cy="775.8" rx="2.4" ry="3.0" transform="rotate(-20 475.5 775.8)" fill="#fff" stroke="#111" stroke-width="1.1"/>
<ellipse cx="499.5" cy="762.7" rx="2.4" ry="3.0" transform="rotate(-20 499.5 762.7)" fill="#fff" stroke="#111" stroke-width="1.1"/>
<ellipse cx="499.5" cy="790.0" rx="2.4" ry="3.0" transform="rotate(-20 499.5 790.0)" fill="#fff" stroke="#111" stroke-width="1.1"/>
<path d="M505,756.5 C520,738 535,722 548,712 C560,703 575,698 590,693" fill="none" stroke="#111" stroke-width="0.9" stroke-linejoin="round" stroke-linecap="round"/>
<path d="M503,755 C525,728 555,700 600,669" fill="none" stroke="#111" stroke-width="0.9" stroke-linejoin="round" stroke-linecap="round"/>
<path d="M503,760 C530,736 560,713 610,690" fill="none" stroke="#111" stroke-width="0.8" stroke-linejoin="round" stroke-linecap="round"/>
<path d="M506,770 L566.5,740.4 L575,738" fill="none" stroke="#111" stroke-width="1.0" stroke-linejoin="round" stroke-linecap="round"/>
<path d="M506,774 L568,744 L576,742" fill="none" stroke="#111" stroke-width="1.0" stroke-linejoin="round" stroke-linecap="round"/>
<path d="M507,779 L569,751" fill="none" stroke="#111" stroke-width="0.9" stroke-linejoin="round" stroke-linecap="round"/>
<path d="M508,789 C530,782 552,774 577,767" fill="none" stroke="#111" stroke-width="0.9" stroke-linejoin="round" stroke-linecap="round"/>
<path d="M489.5,661.8 L556.4,698.2 C561,703 563.6,708 564,714 L565,779" fill="none" stroke="#111" stroke-width="1.0" stroke-linejoin="round" stroke-linecap="round"/>
<path d="M556.4,698.2 L628,666" fill="none" stroke="#111" stroke-width="0.8" stroke-linejoin="round" stroke-linecap="round"/>
<path d="M560,706 L630,676" fill="none" stroke="#111" stroke-width="0.8" stroke-linejoin="round" stroke-linecap="round"/>
<line x1="455.5" y1="719.0" x2="479.0" y2="694.5" stroke="#111" stroke-width="1.2"/>
<line x1="457.2" y1="720.0" x2="480.7" y2="695.5" stroke="#111" stroke-width="1.2"/>
<line x1="460.7" y1="722.2" x2="484.2" y2="697.7" stroke="#111" stroke-width="1.2"/>
<line x1="462.4" y1="723.2" x2="485.9" y2="698.7" stroke="#111" stroke-width="1.2"/>
<line x1="494.0" y1="680.5" x2="518.0" y2="664.0" stroke="#111" stroke-width="1.0"/>
<line x1="495.5" y1="681.7" x2="519.5" y2="665.2" stroke="#111" stroke-width="1.0"/>
<line x1="497.0" y1="682.9" x2="521.0" y2="666.4" stroke="#111" stroke-width="1.0"/>
<ellipse cx="488.0" cy="688.0" rx="8.8" ry="6.3" fill="#fff" stroke="#111" stroke-width="1.6"/><path d="M496.8,688.0 L496.8,685.2 L479.2,685.2 L479.2,688.0 Z" fill="#fff"/><line x1="496.8" y1="688.0" x2="496.8" y2="685.2" stroke="#111" stroke-width="1.6"/><line x1="479.2" y1="688.0" x2="479.2" y2="685.2" stroke="#111" stroke-width="1.6"/><ellipse cx="488.0" cy="685.2" rx="8.8" ry="6.3" fill="#fff" stroke="#111" stroke-width="1.6"/>
<ellipse cx="488.0" cy="685.2" rx="5.8" ry="3.7" fill="#fff" stroke="#111" stroke-width="1.1"/>
<path d="M480.0,734.5 C505.0,708.0 520.0,694.0 535.0,686.0 L593.0,654.5" fill="none" stroke="#111" stroke-width="1.3" stroke-linejoin="round" stroke-linecap="round"/>
<path d="M481.7,735.4 C506.7,708.9 521.7,694.9 536.7,686.9 L594.7,655.4" fill="none" stroke="#111" stroke-width="1.1" stroke-linejoin="round" stroke-linecap="round"/>
<path d="M485.0,737.2 C510.0,710.8 525.0,696.8 540.0,688.8 L598.0,657.2" fill="none" stroke="#111" stroke-width="1.3" stroke-linejoin="round" stroke-linecap="round"/>
<path d="M486.7,738.2 C511.7,711.7 526.7,697.7 541.7,689.7 L599.7,658.2" fill="none" stroke="#111" stroke-width="1.1" stroke-linejoin="round" stroke-linecap="round"/>
<path d="M535.5,626.4 L541.0,620.5 L549.6,619.4 L619.5,660.2 L628.5,665.6 L624.0,669.0 L560.0,632.0 L546.0,628.0 Z" fill="#fff" stroke="#111" stroke-width="1.0" stroke-linejoin="round"/>
<line x1="546.0" y1="628.0" x2="546.0" y2="638.0" stroke="#111" stroke-width="0.9"/>
<line x1="536.0" y1="626.5" x2="538.0" y2="636.0" stroke="#111" stroke-width="0.9"/>
<path d="M548,634 L622,673 L630,697" fill="none" stroke="#111" stroke-width="0.9" stroke-linejoin="round" stroke-linecap="round"/>
<line x1="619.5" y1="660.2" x2="621.0" y2="690.0" stroke="#111" stroke-width="0.9"/>
<line x1="551.0" y1="636.0" x2="566.0" y2="644.0" stroke="#111" stroke-width="1.8"/>
<line x1="553.0" y1="640.0" x2="568.0" y2="648.0" stroke="#111" stroke-width="1.0"/>
<path d="M506.2,654.3 L535.3,638.3 L561.5,652.8 L532.4,670.3 Z" fill="#1e1e1e" stroke="#111" stroke-width="1.5" stroke-linejoin="round"/>
<path d="M514.4,655.3 L519.4,652.5 L537.7,663.7 L532.7,666.5 Z" fill="#fff"/>
<line x1="516.4" y1="654.8" x2="533.7" y2="665.3" stroke="#555" stroke-width="0.8"/>
<path d="M522.8,650.6 L527.8,647.9 L546.1,659.1 L541.2,661.8 Z" fill="#fff"/>
<line x1="524.8" y1="650.1" x2="542.1" y2="660.7" stroke="#555" stroke-width="0.8"/>
<path d="M531.3,646.0 L536.2,643.3 L554.6,654.5 L549.6,657.2 Z" fill="#fff"/>
<line x1="533.3" y1="645.5" x2="550.6" y2="656.1" stroke="#555" stroke-width="0.8"/>
<line x1="498.0" y1="661.0" x2="540.0" y2="641.0" stroke="#111" stroke-width="1.5"/>
<line x1="500.0" y1="663.5" x2="542.0" y2="643.5" stroke="#111" stroke-width="1.0"/>
<line x1="502.0" y1="666.0" x2="544.0" y2="646.0" stroke="#111" stroke-width="1.0"/>
<ellipse cx="601.0" cy="727.5" rx="41.5" ry="24.9" transform="rotate(-60 601.0 727.5)" fill="#fff" stroke="#111" stroke-width="1.1"/>
<ellipse cx="607.0" cy="731.0" rx="41.5" ry="24.9" transform="rotate(-60 607.0 731.0)" fill="#fff" stroke="#111" stroke-width="1.5"/>
<ellipse cx="607.3" cy="731.2" rx="39.3" ry="23.6" transform="rotate(-60 607.3 731.2)" fill="none" stroke="#111" stroke-width="1.0"/>
<ellipse cx="607.0" cy="731.0" rx="35.5" ry="21.3" transform="rotate(-60 607.0 731.0)" fill="#fff" stroke="#111" stroke-width="1.3"/>
<ellipse cx="606.5" cy="730.7" rx="28.5" ry="17.1" transform="rotate(-60 606.5 730.7)" fill="#fff" stroke="#111" stroke-width="1.6"/>
<ellipse cx="604.0" cy="729.2" rx="27.5" ry="16.5" transform="rotate(-60 604.0 729.2)" fill="none" stroke="#111" stroke-width="0.9"/>
<line x1="624.1" y1="708.3" x2="627.9" y2="703.1" stroke="#111" stroke-width="1.2"/>
<ellipse cx="629.1" cy="711.5" rx="1.3" ry="1.7" fill="#fff" stroke="#111" stroke-width="0.9"/>
<line x1="627.8" y1="720.5" x2="632.4" y2="718.1" stroke="#111" stroke-width="1.2"/>
<ellipse cx="628.8" cy="728.1" rx="1.3" ry="1.7" fill="#fff" stroke="#111" stroke-width="0.9"/>
<line x1="623.5" y1="736.7" x2="627.2" y2="738.0" stroke="#111" stroke-width="1.2"/>
<ellipse cx="620.2" cy="745.8" rx="1.3" ry="1.7" fill="#fff" stroke="#111" stroke-width="0.9"/>
<line x1="612.9" y1="750.8" x2="614.3" y2="755.3" stroke="#111" stroke-width="1.2"/>
<ellipse cx="606.5" cy="757.9" rx="1.3" ry="1.7" fill="#fff" stroke="#111" stroke-width="0.9"/>
<line x1="600.1" y1="757.3" x2="598.6" y2="763.2" stroke="#111" stroke-width="1.2"/>
<ellipse cx="593.1" cy="759.7" rx="1.3" ry="1.7" fill="#fff" stroke="#111" stroke-width="0.9"/>
<line x1="589.9" y1="753.7" x2="586.1" y2="758.9" stroke="#111" stroke-width="1.2"/>
<ellipse cx="584.9" cy="750.5" rx="1.3" ry="1.7" fill="#fff" stroke="#111" stroke-width="0.9"/>
<line x1="586.2" y1="741.5" x2="581.6" y2="743.9" stroke="#111" stroke-width="1.2"/>
<ellipse cx="585.2" cy="733.9" rx="1.3" ry="1.7" fill="#fff" stroke="#111" stroke-width="0.9"/>
<line x1="590.5" y1="725.3" x2="586.8" y2="724.0" stroke="#111" stroke-width="1.2"/>
<ellipse cx="593.8" cy="716.2" rx="1.3" ry="1.7" fill="#fff" stroke="#111" stroke-width="0.9"/>
<line x1="601.1" y1="711.2" x2="599.7" y2="706.7" stroke="#111" stroke-width="1.2"/>
<ellipse cx="607.5" cy="704.1" rx="1.3" ry="1.7" fill="#fff" stroke="#111" stroke-width="0.9"/>
<line x1="613.9" y1="704.7" x2="615.4" y2="698.8" stroke="#111" stroke-width="1.2"/>
<ellipse cx="620.9" cy="702.3" rx="1.3" ry="1.7" fill="#fff" stroke="#111" stroke-width="0.9"/>
<line x1="589.0" y1="726.0" x2="606.0" y2="737.0" stroke="#111" stroke-width="1.1"/>
<ellipse cx="649.4" cy="756.0" rx="24.0" ry="14.4" transform="rotate(-60 649.4 756.0)" fill="#fff" stroke="#111" stroke-width="1.3"/><path d="M661.4,735.2 L671.8,741.2 L647.8,782.8 L637.4,776.8 Z" fill="#fff"/><line x1="661.4" y1="735.2" x2="671.8" y2="741.2" stroke="#111" stroke-width="1.3"/><line x1="637.4" y1="776.8" x2="647.8" y2="782.8" stroke="#111" stroke-width="1.3"/><ellipse cx="659.8" cy="762.0" rx="24.0" ry="14.4" transform="rotate(-60 659.8 762.0)" fill="#fff" stroke="#111" stroke-width="1.3"/>
<ellipse cx="659.8" cy="762.0" rx="21.0" ry="12.6" transform="rotate(-60 659.8 762.0)" fill="#fff" stroke="#111" stroke-width="1.3"/>
<ellipse cx="659.8" cy="762.0" rx="19.5" ry="11.7" transform="rotate(-60 659.8 762.0)" fill="#262626"/>
<ellipse cx="660.1" cy="762.2" rx="13.5" ry="8.1" transform="rotate(-60 660.1 762.2)" fill="#fff" stroke="#111" stroke-width="1.2"/>
<ellipse cx="660.3" cy="762.3" rx="10.0" ry="6.0" transform="rotate(-60 660.3 762.3)" fill="#fff" stroke="#111" stroke-width="1.4"/>
<ellipse cx="690.6" cy="779.8" rx="19.5" ry="11.7" transform="rotate(-60 690.6 779.8)" fill="#fff" stroke="#111" stroke-width="1.6"/><path d="M700.4,762.9 L705.5,765.9 L686.0,799.7 L680.9,796.7 Z" fill="#fff"/><line x1="700.4" y1="762.9" x2="705.5" y2="765.9" stroke="#111" stroke-width="1.6"/><line x1="680.9" y1="796.7" x2="686.0" y2="799.7" stroke="#111" stroke-width="1.6"/><ellipse cx="695.8" cy="782.8" rx="19.5" ry="11.7" transform="rotate(-60 695.8 782.8)" fill="#fff" stroke="#111" stroke-width="1.6"/>
<ellipse cx="695.8" cy="782.8" rx="14.0" ry="8.4" transform="rotate(-60 695.8 782.8)" fill="#fff" stroke="#111" stroke-width="1.2"/>
<ellipse cx="696.6" cy="783.3" rx="10.5" ry="6.3" transform="rotate(-60 696.6 783.3)" fill="#fff" stroke="#111" stroke-width="1.6"/>
<ellipse cx="726.7" cy="801.0" rx="33.8" ry="20.3" transform="rotate(-60 726.7 801.0)" fill="none" stroke="#111" stroke-width="2.8"/>
<ellipse cx="726.9" cy="801.1" rx="31.0" ry="18.6" transform="rotate(-60 726.9 801.1)" fill="none" stroke="#111" stroke-width="1.1"/>
<ellipse cx="770.8" cy="826.1" rx="41.0" ry="24.6" transform="rotate(-60 770.8 826.1)" fill="#fff" stroke="#111" stroke-width="1.2"/>
<ellipse cx="770.8" cy="826.1" rx="28.0" ry="16.8" transform="rotate(-60 770.8 826.1)" fill="#fff" stroke="#111" stroke-width="1.2"/>
<ellipse cx="752.9" cy="815.8" rx="2.7" ry="1.6" transform="rotate(-60 752.9 815.8)" fill="#fff" stroke="#111" stroke-width="1.2"/>
<ellipse cx="770.3" cy="797.7" rx="2.7" ry="1.6" transform="rotate(-60 770.3 797.7)" fill="#fff" stroke="#111" stroke-width="1.2"/>
<ellipse cx="788.0" cy="796.2" rx="2.7" ry="1.6" transform="rotate(-60 788.0 796.2)" fill="#fff" stroke="#111" stroke-width="1.2"/>
<ellipse cx="788.7" cy="836.5" rx="2.7" ry="1.6" transform="rotate(-60 788.7 836.5)" fill="#fff" stroke="#111" stroke-width="1.2"/>
<ellipse cx="771.3" cy="854.5" rx="2.7" ry="1.6" transform="rotate(-60 771.3 854.5)" fill="#fff" stroke="#111" stroke-width="1.2"/>
<ellipse cx="753.5" cy="856.0" rx="2.7" ry="1.6" transform="rotate(-60 753.5 856.0)" fill="#fff" stroke="#111" stroke-width="1.2"/>
<ellipse cx="818.4" cy="851.6" rx="31.0" ry="16.1" transform="rotate(-60 818.4 851.6)" fill="#fff" stroke="#111" stroke-width="1.2"/><path d="M833.9,824.8 L840.8,828.8 L809.8,882.4 L802.9,878.4 Z" fill="#fff"/><line x1="833.9" y1="824.8" x2="840.8" y2="828.8" stroke="#111" stroke-width="1.2"/><line x1="802.9" y1="878.4" x2="809.8" y2="882.4" stroke="#111" stroke-width="1.2"/><ellipse cx="825.3" cy="855.6" rx="31.0" ry="16.1" transform="rotate(-60 825.3 855.6)" fill="#fff" stroke="#111" stroke-width="1.2"/>
<ellipse cx="825.3" cy="855.6" rx="41.0" ry="21.3" transform="rotate(-60 825.3 855.6)" fill="#fff" stroke="#111" stroke-width="1.3"/><path d="M845.8,820.1 L851.0,823.1 L810.0,894.1 L804.8,891.1 Z" fill="#fff"/><line x1="845.8" y1="820.1" x2="851.0" y2="823.1" stroke="#111" stroke-width="1.3"/><line x1="804.8" y1="891.1" x2="810.0" y2="894.1" stroke="#111" stroke-width="1.3"/><ellipse cx="830.5" cy="858.6" rx="41.0" ry="21.3" transform="rotate(-60 830.5 858.6)" fill="#fff" stroke="#111" stroke-width="1.3"/>
<ellipse cx="811.2" cy="849.1" rx="2.6" ry="1.7" transform="rotate(-60 811.2 849.1)" fill="#fff" stroke="#111" stroke-width="1.2"/>
<ellipse cx="829.1" cy="831.8" rx="2.6" ry="1.7" transform="rotate(-60 829.1 831.8)" fill="#fff" stroke="#111" stroke-width="1.2"/>
<ellipse cx="846.4" cy="829.1" rx="2.6" ry="1.7" transform="rotate(-60 846.4 829.1)" fill="#fff" stroke="#111" stroke-width="1.2"/>
<ellipse cx="846.4" cy="870.0" rx="2.6" ry="1.7" transform="rotate(-60 846.4 870.0)" fill="#fff" stroke="#111" stroke-width="1.2"/>
<ellipse cx="829.1" cy="888.2" rx="2.6" ry="1.7" transform="rotate(-60 829.1 888.2)" fill="#fff" stroke="#111" stroke-width="1.2"/>
<ellipse cx="811.2" cy="890.0" rx="2.6" ry="1.7" transform="rotate(-60 811.2 890.0)" fill="#fff" stroke="#111" stroke-width="1.2"/>
<ellipse cx="849.1" cy="848.2" rx="0.8" ry="0.8" fill="#222" stroke="#111" stroke-width="1.0"/>
<ellipse cx="809.3" cy="871.8" rx="0.8" ry="0.8" fill="#222" stroke="#111" stroke-width="1.0"/>
<ellipse cx="830.5" cy="858.6" rx="23.5" ry="13.4" transform="rotate(-60 830.5 858.6)" fill="#fff" stroke="#111" stroke-width="2.8"/>
<ellipse cx="828.5" cy="857.5" rx="20.5" ry="11.7" transform="rotate(-60 828.5 857.5)" fill="none" stroke="#111" stroke-width="1.0"/>
<ellipse cx="826.5" cy="856.3" rx="19.5" ry="11.1" transform="rotate(-60 826.5 856.3)" fill="none" stroke="#111" stroke-width="0.9"/>
<ellipse cx="855.7" cy="876.0" rx="4.8" ry="2.9" transform="rotate(-60 855.7 876.0)" fill="#222" stroke="#111" stroke-width="1.3"/><ellipse cx="855.7" cy="876.0" rx="2.8" ry="1.7" transform="rotate(-60 855.7 876.0)" fill="#fff" stroke="#111" stroke-width="1.3"/>
<ellipse cx="862.0" cy="879.0" rx="2.6" ry="1.6" transform="rotate(-60 862.0 879.0)" fill="#fff" stroke="#111" stroke-width="1.0"/><path d="M863.3,876.7 L873.7,882.7 L871.1,887.3 L860.7,881.3 Z" fill="#fff"/><line x1="863.3" y1="876.7" x2="873.7" y2="882.7" stroke="#111" stroke-width="1.0"/><line x1="860.7" y1="881.3" x2="871.1" y2="887.3" stroke="#111" stroke-width="1.0"/><ellipse cx="872.4" cy="885.0" rx="2.6" ry="1.6" transform="rotate(-60 872.4 885.0)" fill="#fff" stroke="#111" stroke-width="1.0"/>
<ellipse cx="872.4" cy="885.0" rx="4.6" ry="2.8" transform="rotate(-60 872.4 885.0)" fill="#fff" stroke="#111" stroke-width="1.2"/><path d="M874.7,881.0 L878.2,883.0 L873.6,891.0 L870.1,889.0 Z" fill="#fff"/><line x1="874.7" y1="881.0" x2="878.2" y2="883.0" stroke="#111" stroke-width="1.2"/><line x1="870.1" y1="889.0" x2="873.6" y2="891.0" stroke="#111" stroke-width="1.2"/><ellipse cx="875.9" cy="887.0" rx="4.6" ry="2.8" transform="rotate(-60 875.9 887.0)" fill="#fff" stroke="#111" stroke-width="1.2"/>
<ellipse cx="246.0" cy="880.3" rx="14.6" ry="10.2" transform="rotate(60 246.0 880.3)" fill="#fff" stroke="#111" stroke-width="1.6"/><path d="M255.5,891.7 L253.3,892.9 L238.7,867.7 L240.9,866.4 Z" fill="#fff"/><line x1="255.5" y1="891.7" x2="253.3" y2="892.9" stroke="#111" stroke-width="1.6"/><line x1="240.9" y1="866.4" x2="238.7" y2="867.7" stroke="#111" stroke-width="1.6"/><ellipse cx="248.2" cy="879.0" rx="14.6" ry="10.2" transform="rotate(60 248.2 879.0)" fill="#fff" stroke="#111" stroke-width="1.6"/>
<ellipse cx="246.0" cy="880.3" rx="9.9" ry="6.9" transform="rotate(60 246.0 880.3)" fill="#fff" stroke="#111" stroke-width="1.7"/>
<ellipse cx="267.0" cy="868.0" rx="15.6" ry="10.9" transform="rotate(60 267.0 868.0)" fill="#1c1c1c" stroke="#111" stroke-width="1.5"/><path d="M278.3,879.5 L274.8,881.5 L259.2,854.5 L262.7,852.5 Z" fill="#1c1c1c"/><line x1="278.3" y1="879.5" x2="274.8" y2="881.5" stroke="#111" stroke-width="1.5"/><line x1="262.7" y1="852.5" x2="259.2" y2="854.5" stroke="#111" stroke-width="1.5"/><ellipse cx="270.5" cy="866.0" rx="15.6" ry="10.9" transform="rotate(60 270.5 866.0)" fill="#1c1c1c" stroke="#111" stroke-width="1.5"/>
<ellipse cx="267.0" cy="868.0" rx="12.0" ry="8.4" transform="rotate(60 267.0 868.0)" fill="#fff"/>
<ellipse cx="268.6" cy="867.1" rx="10.0" ry="7.0" transform="rotate(60 268.6 867.1)" fill="#fff" stroke="#111" stroke-width="2.2"/>
<ellipse cx="266.2" cy="868.5" rx="11.0" ry="7.7" transform="rotate(60 266.2 868.5)" fill="none" stroke="#111" stroke-width="1.0"/>
<ellipse cx="288.0" cy="855.0" rx="15.8" ry="11.1" transform="rotate(60 288.0 855.0)" fill="#fff" stroke="#111" stroke-width="1.5"/><path d="M297.6,867.7 L295.9,868.7 L280.1,841.3 L281.8,840.3 Z" fill="#fff"/><line x1="297.6" y1="867.7" x2="295.9" y2="868.7" stroke="#111" stroke-width="1.5"/><line x1="281.8" y1="840.3" x2="280.1" y2="841.3" stroke="#111" stroke-width="1.5"/><ellipse cx="289.7" cy="854.0" rx="15.8" ry="11.1" transform="rotate(60 289.7 854.0)" fill="#fff" stroke="#111" stroke-width="1.5"/>
<ellipse cx="288.0" cy="855.0" rx="11.0" ry="7.7" transform="rotate(60 288.0 855.0)" fill="#fff" stroke="#111" stroke-width="1.5"/>
<ellipse cx="309.5" cy="843.0" rx="16.0" ry="11.2" transform="rotate(60 309.5 843.0)" fill="#fff" stroke="#111" stroke-width="1.4"/><path d="M321.0,854.9 L317.5,856.9 L301.5,829.1 L305.0,827.1 Z" fill="#fff"/><line x1="321.0" y1="854.9" x2="317.5" y2="856.9" stroke="#111" stroke-width="1.4"/><line x1="305.0" y1="827.1" x2="301.5" y2="829.1" stroke="#111" stroke-width="1.4"/><ellipse cx="313.0" cy="841.0" rx="16.0" ry="11.2" transform="rotate(60 313.0 841.0)" fill="#fff" stroke="#111" stroke-width="1.4"/>
<ellipse cx="309.5" cy="843.0" rx="14.2" ry="9.9" transform="rotate(60 309.5 843.0)" fill="none" stroke="#111" stroke-width="0.9"/>
<ellipse cx="309.0" cy="843.3" rx="10.5" ry="7.3" transform="rotate(60 309.0 843.3)" fill="#2a2a2a" stroke="#111" stroke-width="1.2"/>
<ellipse cx="311.3" cy="842.0" rx="8.5" ry="5.9" transform="rotate(60 311.3 842.0)" fill="#fff" stroke="#111" stroke-width="1.0"/>
<ellipse cx="331.5" cy="830.5" rx="13.5" ry="9.4" transform="rotate(60 331.5 830.5)" fill="#fff" stroke="#111" stroke-width="2.2"/><path d="M340.0,841.2 L338.2,842.2 L324.8,818.8 L326.5,817.8 Z" fill="#fff"/><line x1="340.0" y1="841.2" x2="338.2" y2="842.2" stroke="#111" stroke-width="2.2"/><line x1="326.5" y1="817.8" x2="324.8" y2="818.8" stroke="#111" stroke-width="2.2"/><ellipse cx="333.2" cy="829.5" rx="13.5" ry="9.4" transform="rotate(60 333.2 829.5)" fill="#fff" stroke="#111" stroke-width="2.2"/>
<ellipse cx="331.5" cy="830.5" rx="9.8" ry="6.9" transform="rotate(60 331.5 830.5)" fill="#fff" stroke="#111" stroke-width="1.8"/>
<ellipse cx="349.5" cy="820.5" rx="14.6" ry="10.2" transform="rotate(60 349.5 820.5)" fill="#1c1c1c" stroke="#111" stroke-width="1.5"/><path d="M360.3,831.1 L356.8,833.1 L342.2,807.9 L345.7,805.9 Z" fill="#1c1c1c"/><line x1="360.3" y1="831.1" x2="356.8" y2="833.1" stroke="#111" stroke-width="1.5"/><line x1="345.7" y1="805.9" x2="342.2" y2="807.9" stroke="#111" stroke-width="1.5"/><ellipse cx="353.0" cy="818.5" rx="14.6" ry="10.2" transform="rotate(60 353.0 818.5)" fill="#1c1c1c" stroke="#111" stroke-width="1.5"/>
<ellipse cx="350.3" cy="820.0" rx="9.2" ry="6.4" transform="rotate(60 350.3 820.0)" fill="#fff" stroke="#111" stroke-width="1.2"/>
<ellipse cx="349.0" cy="820.8" rx="11.2" ry="7.8" transform="rotate(60 349.0 820.8)" fill="none" stroke="#fff" stroke-width="0.9"/>
<ellipse cx="368.0" cy="810.5" rx="13.5" ry="9.4" transform="rotate(60 368.0 810.5)" fill="#fff" stroke="#111" stroke-width="1.4"/><path d="M376.5,821.2 L374.8,822.2 L361.2,798.8 L363.0,797.8 Z" fill="#fff"/><line x1="376.5" y1="821.2" x2="374.8" y2="822.2" stroke="#111" stroke-width="1.4"/><line x1="363.0" y1="797.8" x2="361.2" y2="798.8" stroke="#111" stroke-width="1.4"/><ellipse cx="369.7" cy="809.5" rx="13.5" ry="9.4" transform="rotate(60 369.7 809.5)" fill="#fff" stroke="#111" stroke-width="1.4"/>
<ellipse cx="368.0" cy="810.5" rx="12.2" ry="8.5" transform="rotate(60 368.0 810.5)" fill="none" stroke="#555" stroke-width="1.0"/>
<ellipse cx="368.0" cy="810.5" rx="9.5" ry="6.6" transform="rotate(60 368.0 810.5)" fill="#fff" stroke="#111" stroke-width="1.4"/>
<ellipse cx="389.5" cy="798.0" rx="19.2" ry="13.4" transform="rotate(60 389.5 798.0)" fill="#fff" stroke="#111" stroke-width="2.4"/><path d="M403.4,812.1 L399.1,814.6 L379.9,781.4 L384.2,778.9 Z" fill="#fff"/><line x1="403.4" y1="812.1" x2="399.1" y2="814.6" stroke="#111" stroke-width="2.4"/><line x1="384.2" y1="778.9" x2="379.9" y2="781.4" stroke="#111" stroke-width="2.4"/><ellipse cx="393.8" cy="795.5" rx="19.2" ry="13.4" transform="rotate(60 393.8 795.5)" fill="#fff" stroke="#111" stroke-width="2.4"/>
<ellipse cx="389.5" cy="798.0" rx="16.6" ry="11.6" transform="rotate(60 389.5 798.0)" fill="#fff" stroke="#111" stroke-width="2.2"/>
<ellipse cx="393.0" cy="796.0" rx="14.5" ry="10.1" transform="rotate(60 393.0 796.0)" fill="none" stroke="#111" stroke-width="2.2"/>
<ellipse cx="394.5" cy="795.1" rx="12.2" ry="8.5" transform="rotate(60 394.5 795.1)" fill="none" stroke="#111" stroke-width="1.5"/>
<ellipse cx="416.4" cy="782.0" rx="14.6" ry="10.2" transform="rotate(60 416.4 782.0)" fill="none" stroke="#111" stroke-width="2.0"/>
<ellipse cx="433.8" cy="771.6" rx="12.0" ry="8.4" transform="rotate(60 433.8 771.6)" fill="#fff" stroke="#111" stroke-width="2.0"/><path d="M442.4,780.5 L439.8,782.0 L427.8,761.2 L430.4,759.7 Z" fill="#fff"/><line x1="442.4" y1="780.5" x2="439.8" y2="782.0" stroke="#111" stroke-width="2.0"/><line x1="430.4" y1="759.7" x2="427.8" y2="761.2" stroke="#111" stroke-width="2.0"/><ellipse cx="436.4" cy="770.1" rx="12.0" ry="8.4" transform="rotate(60 436.4 770.1)" fill="#fff" stroke="#111" stroke-width="2.0"/>
<ellipse cx="433.8" cy="771.6" rx="9.3" ry="6.5" transform="rotate(60 433.8 771.6)" fill="#fff" stroke="#111" stroke-width="1.2"/>
<ellipse cx="435.0" cy="770.9" rx="7.4" ry="5.2" transform="rotate(60 435.0 770.9)" fill="#fff" stroke="#111" stroke-width="1.6"/>
<path d="M338.6,853.5 L347.5,853.5 L366.5,841.6 L371.5,841.2 L372.5,836 L387,826.5 L387.7,819" fill="none" stroke="#111" stroke-width="1.1" stroke-linejoin="round" stroke-linecap="round"/>
<path d="M255.5,900.2 L265,900.2 L283.4,890 L286,890 L286.5,886 L304.5,873.6 L306,866" fill="none" stroke="#111" stroke-width="1.1" stroke-linejoin="round" stroke-linecap="round"/>
<ellipse cx="676.0" cy="631.8" rx="2.3" ry="1.6" transform="rotate(60 676.0 631.8)" fill="#fff" stroke="#111" stroke-width="1.5"/><path d="M643.9,653.0 L677.1,633.8 L674.9,629.8 L641.6,649.0 Z" fill="#fff"/><line x1="643.9" y1="653.0" x2="677.1" y2="633.8" stroke="#111" stroke-width="1.5"/><line x1="641.6" y1="649.0" x2="674.9" y2="629.8" stroke="#111" stroke-width="1.5"/><ellipse cx="642.7" cy="651.0" rx="2.3" ry="1.6" transform="rotate(60 642.7 651.0)" fill="#fff" stroke="#111" stroke-width="1.5"/>
<line x1="666.0" y1="637.4" x2="668.0" y2="636.2" stroke="#111" stroke-width="1"/>
<line x1="670.0" y1="635.0" x2="672.0" y2="633.8" stroke="#111" stroke-width="1"/>
<ellipse cx="642.7" cy="651.0" rx="4.8" ry="3.4" transform="rotate(60 642.7 651.0)" fill="#222" stroke="#111" stroke-width="1.2"/><path d="M647.9,653.6 L645.1,655.2 L640.3,646.8 L643.1,645.2 Z" fill="#222"/><line x1="647.9" y1="653.6" x2="645.1" y2="655.2" stroke="#111" stroke-width="1.2"/><line x1="643.1" y1="645.2" x2="640.3" y2="646.8" stroke="#111" stroke-width="1.2"/><ellipse cx="645.5" cy="649.4" rx="4.8" ry="3.4" transform="rotate(60 645.5 649.4)" fill="#222" stroke="#111" stroke-width="1.2"/>
<ellipse cx="642.7" cy="651.0" rx="2.6" ry="1.8" transform="rotate(60 642.7 651.0)" fill="#555" stroke="#111" stroke-width="0.8"/>
<ellipse cx="681.8" cy="628.2" rx="4.0" ry="2.8" transform="rotate(60 681.8 628.2)" fill="#1a1a1a" stroke="#111" stroke-width="1.4"/>
<ellipse cx="681.8" cy="628.2" rx="1.3" ry="0.9" transform="rotate(60 681.8 628.2)" fill="#888"/>
<ellipse cx="725.5" cy="603.4" rx="9.6" ry="6.7" transform="rotate(60 725.5 603.4)" fill="#fff" stroke="#111" stroke-width="1.4"/><path d="M701.2,628.5 L730.3,611.7 L720.7,595.1 L691.6,611.9 Z" fill="#fff"/><line x1="701.2" y1="628.5" x2="730.3" y2="611.7" stroke="#111" stroke-width="1.4"/><line x1="691.6" y1="611.9" x2="720.7" y2="595.1" stroke="#111" stroke-width="1.4"/><ellipse cx="696.4" cy="620.2" rx="9.6" ry="6.7" transform="rotate(60 696.4 620.2)" fill="#fff" stroke="#111" stroke-width="1.4"/>
<ellipse cx="696.4" cy="620.2" rx="2.2" ry="1.5" transform="rotate(60 696.4 620.2)" fill="#fff" stroke="#111" stroke-width="1.0"/>
<ellipse cx="739.0" cy="594.6" rx="11.0" ry="7.7" transform="rotate(60 739.0 594.6)" fill="#fff" stroke="#111" stroke-width="1.3"/><path d="M746.5,602.9 L744.5,604.1 L733.5,585.1 L735.5,583.9 Z" fill="#fff"/><line x1="746.5" y1="602.9" x2="744.5" y2="604.1" stroke="#111" stroke-width="1.3"/><line x1="735.5" y1="583.9" x2="733.5" y2="585.1" stroke="#111" stroke-width="1.3"/><ellipse cx="741.0" cy="593.4" rx="11.0" ry="7.7" transform="rotate(60 741.0 593.4)" fill="#fff" stroke="#111" stroke-width="1.3"/>
<ellipse cx="739.3" cy="593.5" rx="2.1" ry="2.6" transform="rotate(-20 739.3 593.5)" fill="#fff" stroke="#111" stroke-width="1.1"/>
<path d="M738.6,596 L738.2,600.5" fill="none" stroke="#111" stroke-width="1.1" stroke-linejoin="round" stroke-linecap="round"/>
<ellipse cx="804.0" cy="557.5" rx="7.7" ry="5.4" transform="rotate(60 804.0 557.5)" fill="#fff" stroke="#111" stroke-width="1.4"/><path d="M760.9,591.2 L807.9,564.2 L800.1,550.8 L753.1,577.8 Z" fill="#fff"/><line x1="760.9" y1="591.2" x2="807.9" y2="564.2" stroke="#111" stroke-width="1.4"/><line x1="753.1" y1="577.8" x2="800.1" y2="550.8" stroke="#111" stroke-width="1.4"/><ellipse cx="757.0" cy="584.5" rx="7.7" ry="5.4" transform="rotate(60 757.0 584.5)" fill="#fff" stroke="#111" stroke-width="1.4"/>
<ellipse cx="757.0" cy="584.5" rx="5.0" ry="3.5" transform="rotate(60 757.0 584.5)" fill="#fff" stroke="#111" stroke-width="1.0"/>
<ellipse cx="757.0" cy="584.5" rx="3.0" ry="2.1" transform="rotate(60 757.0 584.5)" fill="#fff" stroke="#111" stroke-width="1.0"/><path d="M752.0,590.9 L758.5,587.1 L755.5,581.9 L749.0,585.7 Z" fill="#fff"/><line x1="752.0" y1="590.9" x2="758.5" y2="587.1" stroke="#111" stroke-width="1.0"/><line x1="749.0" y1="585.7" x2="755.5" y2="581.9" stroke="#111" stroke-width="1.0"/><ellipse cx="750.5" cy="588.3" rx="3.0" ry="2.1" transform="rotate(60 750.5 588.3)" fill="#fff" stroke="#111" stroke-width="1.0"/>
<ellipse cx="750.5" cy="588.3" rx="2.8" ry="2.0" transform="rotate(60 750.5 588.3)" fill="#111" stroke="#111" stroke-width="1.0"/>
<path d="M768.7,568.8 Q769.3,577.5 776.4,582.2" fill="none" stroke="#111" stroke-width="1.5" stroke-linejoin="round" stroke-linecap="round"/>
<path d="M771.3,567.3 Q771.9,576.0 779.0,580.7" fill="none" stroke="#111" stroke-width="1.5" stroke-linejoin="round" stroke-linecap="round"/>
<path d="M796,556 C797,561 800,565 803,565" fill="none" stroke="#111" stroke-width="1.0" stroke-linejoin="round" stroke-linecap="round"/>
<ellipse cx="799.5" cy="561.0" rx="3.6" ry="2.5" transform="rotate(60 799.5 561.0)" fill="none" stroke="#111" stroke-width="1.0"/>
<ellipse cx="789.5" cy="526.0" rx="6.1" ry="4.3" transform="rotate(-60 789.5 526.0)" fill="#fff" stroke="#111" stroke-width="1.4"/><path d="M792.5,520.7 L808.5,529.7 L802.5,540.3 L786.5,531.3 Z" fill="#fff"/><line x1="792.5" y1="520.7" x2="808.5" y2="529.7" stroke="#111" stroke-width="1.4"/><line x1="786.5" y1="531.3" x2="802.5" y2="540.3" stroke="#111" stroke-width="1.4"/><ellipse cx="805.5" cy="535.0" rx="6.1" ry="4.3" transform="rotate(-60 805.5 535.0)" fill="#fff" stroke="#111" stroke-width="1.4"/>
<path d="M135.0,905.0 L141.0,884.0 L147.0,870.0 L229.0,889.5 L255.0,903.0 L256.4,936.0 L258.0,955.0 L251.0,976.0 L238.0,983.0 L224.0,975.0 L204.0,984.0 L186.0,979.0 L160.0,964.0 L136.0,948.0 L131.0,926.0 Z" fill="#fff" stroke="#111" stroke-width="1.6" stroke-linejoin="round"/>
<path d="M147,858 C138,862 134,870 137,878 C139,884 144,887 147,888" fill="#fff" stroke="#111" stroke-width="1.2" stroke-linejoin="round" stroke-linecap="round"/>
<ellipse cx="162.3" cy="888.0" rx="15.5" ry="8.1" fill="#fff" stroke="#111" stroke-width="1.7"/><path d="M177.8,888.0 L177.8,856.8 L146.8,856.8 L146.8,888.0 Z" fill="#fff"/><line x1="177.8" y1="888.0" x2="177.8" y2="856.8" stroke="#111" stroke-width="1.7"/><line x1="146.8" y1="888.0" x2="146.8" y2="856.8" stroke="#111" stroke-width="1.7"/><ellipse cx="162.3" cy="856.8" rx="15.5" ry="8.1" fill="#fff" stroke="#111" stroke-width="1.7"/>
<ellipse cx="162.3" cy="856.8" rx="12.5" ry="6.5" fill="#fff" stroke="#111" stroke-width="2.2"/>
<ellipse cx="162.3" cy="857.2" rx="11.0" ry="5.7" fill="#fff" stroke="#111" stroke-width="1.0"/>
<path d="M146.8,863 C152,868 172,868 177.8,863" fill="none" stroke="#111" stroke-width="1.4" stroke-linejoin="round" stroke-linecap="round"/>
<ellipse cx="189.5" cy="902.0" rx="14.0" ry="7.3" fill="#fff" stroke="#111" stroke-width="1.7"/><path d="M203.5,902.0 L203.5,866.0 L175.5,866.0 L175.5,902.0 Z" fill="#fff"/><line x1="203.5" y1="902.0" x2="203.5" y2="866.0" stroke="#111" stroke-width="1.7"/><line x1="175.5" y1="902.0" x2="175.5" y2="866.0" stroke="#111" stroke-width="1.7"/><ellipse cx="189.5" cy="866.0" rx="14.0" ry="7.3" fill="#fff" stroke="#111" stroke-width="1.7"/>
<path d="M175.5,878 C181,884 198,884 203.5,878" fill="none" stroke="#111" stroke-width="2.0" stroke-linejoin="round" stroke-linecap="round"/>
<path d="M175.5,881 C181,887 198,887 203.5,881" fill="none" stroke="#111" stroke-width="1.0" stroke-linejoin="round" stroke-linecap="round"/>
<path d="M202.1,858.5 L202.1,866.1 L189.5,869.8 L176.9,866.1 L176.9,858.5 L176.9,864.5 L176.9,872.1 L189.5,875.8 L202.1,872.1 L202.1,864.5 Z" fill="#fff" stroke="#111" stroke-width="1.6" stroke-linejoin="round"/>
<line x1="202.1" y1="866.1" x2="202.1" y2="872.1" stroke="#111" stroke-width="1.4400000000000002"/>
<line x1="189.5" y1="869.8" x2="189.5" y2="875.8" stroke="#111" stroke-width="1.4400000000000002"/>
<line x1="176.9" y1="866.1" x2="176.9" y2="872.1" stroke="#111" stroke-width="1.4400000000000002"/>
<line x1="176.9" y1="858.5" x2="176.9" y2="864.5" stroke="#111" stroke-width="1.4400000000000002"/>
<path d="M202.1,866.1 L189.5,869.8 L176.9,866.1 L176.9,858.5 L189.5,854.8 L202.1,858.5 Z" fill="#fff" stroke="#111" stroke-width="1.6" stroke-linejoin="round"/>
<ellipse cx="189.5" cy="862.3" rx="9.5" ry="4.9" fill="#fff" stroke="#111" stroke-width="1.6"/>
<ellipse cx="189.5" cy="863.0" rx="6.5" ry="3.4" fill="#fff" stroke="#111" stroke-width="1.1"/>
<ellipse cx="215.5" cy="916.0" rx="14.0" ry="7.3" fill="#fff" stroke="#111" stroke-width="1.7"/><path d="M229.5,916.0 L229.5,880.0 L201.5,880.0 L201.5,916.0 Z" fill="#fff"/><line x1="229.5" y1="916.0" x2="229.5" y2="880.0" stroke="#111" stroke-width="1.7"/><line x1="201.5" y1="916.0" x2="201.5" y2="880.0" stroke="#111" stroke-width="1.7"/><ellipse cx="215.5" cy="880.0" rx="14.0" ry="7.3" fill="#fff" stroke="#111" stroke-width="1.7"/>
<path d="M201.5,892 C207,898 224,898 229.5,892" fill="none" stroke="#111" stroke-width="2.0" stroke-linejoin="round" stroke-linecap="round"/>
<path d="M201.5,895 C207,901 224,901 229.5,895" fill="none" stroke="#111" stroke-width="1.0" stroke-linejoin="round" stroke-linecap="round"/>
<path d="M228.1,872.2 L228.1,879.8 L215.5,883.5 L202.9,879.8 L202.9,872.2 L202.9,878.2 L202.9,885.8 L215.5,889.5 L228.1,885.8 L228.1,878.2 Z" fill="#fff" stroke="#111" stroke-width="1.6" stroke-linejoin="round"/>
<line x1="228.1" y1="879.8" x2="228.1" y2="885.8" stroke="#111" stroke-width="1.4400000000000002"/>
<line x1="215.5" y1="883.5" x2="215.5" y2="889.5" stroke="#111" stroke-width="1.4400000000000002"/>
<line x1="202.9" y1="879.8" x2="202.9" y2="885.8" stroke="#111" stroke-width="1.4400000000000002"/>
<line x1="202.9" y1="872.2" x2="202.9" y2="878.2" stroke="#111" stroke-width="1.4400000000000002"/>
<path d="M228.1,879.8 L215.5,883.5 L202.9,879.8 L202.9,872.2 L215.5,868.5 L228.1,872.2 Z" fill="#fff" stroke="#111" stroke-width="1.6" stroke-linejoin="round"/>
<ellipse cx="215.5" cy="876.0" rx="9.5" ry="4.9" fill="#fff" stroke="#111" stroke-width="1.6"/>
<ellipse cx="215.5" cy="876.7" rx="6.5" ry="3.4" fill="#fff" stroke="#111" stroke-width="1.1"/>
<ellipse cx="231.8" cy="912.7" rx="11.0" ry="7.7" transform="rotate(60 231.8 912.7)" fill="#fff" stroke="#111" stroke-width="1.7"/><path d="M243.5,918.5 L237.3,922.2 L226.3,903.2 L232.5,899.5 Z" fill="#fff"/><line x1="243.5" y1="918.5" x2="237.3" y2="922.2" stroke="#111" stroke-width="1.7"/><line x1="232.5" y1="899.5" x2="226.3" y2="903.2" stroke="#111" stroke-width="1.7"/><ellipse cx="238.0" cy="909.0" rx="11.0" ry="7.7" transform="rotate(60 238.0 909.0)" fill="#fff" stroke="#111" stroke-width="1.7"/>
<ellipse cx="231.8" cy="912.7" rx="8.0" ry="5.6" transform="rotate(60 231.8 912.7)" fill="#fff" stroke="#111" stroke-width="2.2"/>
<path d="M146.0,894.0 C150.0,888.0 160.0,890.0 163.0,898.0 C166.0,902.0 164.0,907.0 159.0,906.0 C154.0,909.0 146.0,904.0 146.0,894.0 Z" fill="#fff" stroke="#111" stroke-width="1.8" stroke-linejoin="round" stroke-linecap="round"/>
<path d="M157.0,903.0 L160.0,900.5" fill="none" stroke="#111" stroke-width="1.6" stroke-linejoin="round" stroke-linecap="round"/>
<path d="M172.0,909.0 C176.0,903.0 186.0,905.0 189.0,913.0 C192.0,917.0 190.0,922.0 185.0,921.0 C180.0,924.0 172.0,919.0 172.0,909.0 Z" fill="#fff" stroke="#111" stroke-width="1.8" stroke-linejoin="round" stroke-linecap="round"/>
<path d="M183.0,918.0 L186.0,915.5" fill="none" stroke="#111" stroke-width="1.6" stroke-linejoin="round" stroke-linecap="round"/>
<path d="M198.0,922.0 C202.0,916.0 212.0,918.0 215.0,926.0 C218.0,930.0 216.0,935.0 211.0,934.0 C206.0,937.0 198.0,932.0 198.0,922.0 Z" fill="#fff" stroke="#111" stroke-width="1.8" stroke-linejoin="round" stroke-linecap="round"/>
<path d="M209.0,931.0 L212.0,928.5" fill="none" stroke="#111" stroke-width="1.6" stroke-linejoin="round" stroke-linecap="round"/>
<ellipse cx="144.5" cy="908.6" rx="3.0" ry="4.2" transform="rotate(-20 144.5 908.6)" fill="#fff" stroke="#111" stroke-width="2.4"/>
<ellipse cx="167.7" cy="923.6" rx="3.0" ry="4.2" transform="rotate(-20 167.7 923.6)" fill="#fff" stroke="#111" stroke-width="2.4"/>
<ellipse cx="194.3" cy="937.3" rx="3.0" ry="4.2" transform="rotate(-20 194.3 937.3)" fill="#fff" stroke="#111" stroke-width="2.4"/>
<ellipse cx="219.5" cy="952.3" rx="3.0" ry="4.2" transform="rotate(-20 219.5 952.3)" fill="#fff" stroke="#111" stroke-width="2.4"/>
<ellipse cx="167.7" cy="895.0" rx="3.0" ry="4.2" transform="rotate(-20 167.7 895.0)" fill="#fff" stroke="#111" stroke-width="2.4"/>
<ellipse cx="218.2" cy="923.6" rx="3.0" ry="4.2" transform="rotate(-20 218.2 923.6)" fill="#fff" stroke="#111" stroke-width="2.4"/>
<ellipse cx="145.0" cy="880.0" rx="3.0" ry="4.2" transform="rotate(-20 145.0 880.0)" fill="#fff" stroke="#111" stroke-width="2.4"/>
<ellipse cx="195.0" cy="910.0" rx="3.0" ry="4.2" transform="rotate(-20 195.0 910.0)" fill="#fff" stroke="#111" stroke-width="2.4"/>
<path d="M226.0,925.0 L247.0,919.0 L247.0,937.0 L226.0,944.0 Z" fill="#fff" stroke="#111" stroke-width="1.1" stroke-linejoin="round"/>
<line x1="229.0" y1="924.5" x2="229.0" y2="942.5" stroke="#111" stroke-width="1.0"/>
<line x1="232.6" y1="923.5" x2="232.6" y2="941.5" stroke="#111" stroke-width="1.0"/>
<line x1="236.2" y1="922.5" x2="236.2" y2="940.5" stroke="#111" stroke-width="1.0"/>
<line x1="239.8" y1="921.5" x2="239.8" y2="939.5" stroke="#111" stroke-width="1.0"/>
<line x1="243.4" y1="920.5" x2="243.4" y2="938.5" stroke="#111" stroke-width="1.0"/>
<path d="M135,930 L160,944 L202,965" fill="none" stroke="#111" stroke-width="1.0" stroke-linejoin="round" stroke-linecap="round"/>
<path d="M225,960 L256,948" fill="none" stroke="#111" stroke-width="1.0" stroke-linejoin="round" stroke-linecap="round"/>
<ellipse cx="143.2" cy="938.6" rx="15.5" ry="10.8" transform="rotate(60 143.2 938.6)" fill="#fff" stroke="#111" stroke-width="1.8"/><path d="M156.9,948.5 L150.9,952.0 L135.4,925.2 L141.4,921.7 Z" fill="#fff"/><line x1="156.9" y1="948.5" x2="150.9" y2="952.0" stroke="#111" stroke-width="1.8"/><line x1="141.4" y1="921.7" x2="135.4" y2="925.2" stroke="#111" stroke-width="1.8"/><ellipse cx="149.2" cy="935.1" rx="15.5" ry="10.8" transform="rotate(60 149.2 935.1)" fill="#fff" stroke="#111" stroke-width="1.8"/>
<ellipse cx="144.7" cy="937.7" rx="15.5" ry="10.8" transform="rotate(60 144.7 937.7)" fill="none" stroke="#111" stroke-width="1.4"/>
<ellipse cx="143.2" cy="938.6" rx="13.0" ry="9.1" transform="rotate(60 143.2 938.6)" fill="#fff" stroke="#111" stroke-width="2.2"/>
<ellipse cx="143.2" cy="938.6" rx="10.5" ry="7.3" transform="rotate(60 143.2 938.6)" fill="#fff" stroke="#111" stroke-width="1.3"/>
<ellipse cx="144.2" cy="938.0" rx="7.0" ry="4.9" transform="rotate(60 144.2 938.0)" fill="#fff" stroke="#111" stroke-width="1.6"/>
<ellipse cx="144.7" cy="937.7" rx="5.0" ry="3.5" transform="rotate(60 144.7 937.7)" fill="#fff" stroke="#111" stroke-width="1.0"/>
<ellipse cx="170.5" cy="953.6" rx="15.5" ry="10.8" transform="rotate(60 170.5 953.6)" fill="#fff" stroke="#111" stroke-width="1.8"/><path d="M184.2,963.5 L178.2,967.0 L162.8,940.2 L168.8,936.7 Z" fill="#fff"/><line x1="184.2" y1="963.5" x2="178.2" y2="967.0" stroke="#111" stroke-width="1.8"/><line x1="168.8" y1="936.7" x2="162.8" y2="940.2" stroke="#111" stroke-width="1.8"/><ellipse cx="176.5" cy="950.1" rx="15.5" ry="10.8" transform="rotate(60 176.5 950.1)" fill="#fff" stroke="#111" stroke-width="1.8"/>
<ellipse cx="172.0" cy="952.7" rx="15.5" ry="10.8" transform="rotate(60 172.0 952.7)" fill="none" stroke="#111" stroke-width="1.4"/>
<ellipse cx="170.5" cy="953.6" rx="13.0" ry="9.1" transform="rotate(60 170.5 953.6)" fill="#fff" stroke="#111" stroke-width="2.2"/>
<ellipse cx="170.5" cy="953.6" rx="10.5" ry="7.3" transform="rotate(60 170.5 953.6)" fill="#fff" stroke="#111" stroke-width="1.3"/>
<ellipse cx="171.5" cy="953.0" rx="7.0" ry="4.9" transform="rotate(60 171.5 953.0)" fill="#fff" stroke="#111" stroke-width="1.6"/>
<ellipse cx="172.0" cy="952.7" rx="5.0" ry="3.5" transform="rotate(60 172.0 952.7)" fill="#fff" stroke="#111" stroke-width="1.0"/>
<ellipse cx="200.5" cy="966.5" rx="14.5" ry="10.1" transform="rotate(60 200.5 966.5)" fill="#fff" stroke="#111" stroke-width="1.8"/><path d="M213.8,975.6 L207.8,979.1 L193.2,953.9 L199.2,950.4 Z" fill="#fff"/><line x1="213.8" y1="975.6" x2="207.8" y2="979.1" stroke="#111" stroke-width="1.8"/><line x1="199.2" y1="950.4" x2="193.2" y2="953.9" stroke="#111" stroke-width="1.8"/><ellipse cx="206.5" cy="963.0" rx="14.5" ry="10.1" transform="rotate(60 206.5 963.0)" fill="#fff" stroke="#111" stroke-width="1.8"/>
<ellipse cx="202.0" cy="965.6" rx="14.5" ry="10.1" transform="rotate(60 202.0 965.6)" fill="none" stroke="#111" stroke-width="1.4"/>
<ellipse cx="200.5" cy="966.5" rx="12.0" ry="8.4" transform="rotate(60 200.5 966.5)" fill="#fff" stroke="#111" stroke-width="2.2"/>
<ellipse cx="200.5" cy="966.5" rx="10.0" ry="7.0" transform="rotate(60 200.5 966.5)" fill="#fff" stroke="#111" stroke-width="1.2"/>
<line x1="202.5" y1="966.5" x2="206.5" y2="963.5" stroke="#111" stroke-width="1.0"/>
<ellipse cx="249.5" cy="957.7" rx="11.5" ry="8.0" transform="rotate(60 249.5 957.7)" fill="#fff" stroke="#111" stroke-width="1.7"/><path d="M259.8,965.0 L255.2,967.7 L243.8,947.7 L248.2,945.0 Z" fill="#fff"/><line x1="259.8" y1="965.0" x2="255.2" y2="967.7" stroke="#111" stroke-width="1.7"/><line x1="248.2" y1="945.0" x2="243.8" y2="947.7" stroke="#111" stroke-width="1.7"/><ellipse cx="254.0" cy="955.0" rx="11.5" ry="8.0" transform="rotate(60 254.0 955.0)" fill="#fff" stroke="#111" stroke-width="1.7"/>
<ellipse cx="249.5" cy="957.7" rx="9.0" ry="6.3" transform="rotate(60 249.5 957.7)" fill="#fff" stroke="#111" stroke-width="2.0"/>
<line x1="162.3" y1="712.0" x2="162.3" y2="856.0" stroke="#111" stroke-width="1.0"/>
<ellipse cx="163.0" cy="713.5" rx="12.8" ry="5.8" fill="#fff" stroke="#111" stroke-width="1.2"/><path d="M175.8,713.5 L175.8,703.0 L150.2,703.0 L150.2,713.5 Z" fill="#fff"/><line x1="175.8" y1="713.5" x2="175.8" y2="703.0" stroke="#111" stroke-width="1.2"/><line x1="150.2" y1="713.5" x2="150.2" y2="703.0" stroke="#111" stroke-width="1.2"/><ellipse cx="163.0" cy="703.0" rx="12.8" ry="5.8" fill="#fff" stroke="#111" stroke-width="1.2"/>
<ellipse cx="163.0" cy="704.0" rx="16.2" ry="7.3" fill="#fff" stroke="#111" stroke-width="1.8"/><path d="M179.2,704.0 L179.2,697.5 L146.8,697.5 L146.8,704.0 Z" fill="#fff"/><line x1="179.2" y1="704.0" x2="179.2" y2="697.5" stroke="#111" stroke-width="1.8"/><line x1="146.8" y1="704.0" x2="146.8" y2="697.5" stroke="#111" stroke-width="1.8"/><ellipse cx="163.0" cy="697.5" rx="16.2" ry="7.3" fill="#fff" stroke="#111" stroke-width="1.8"/>
<path d="M147,700.5 C152,704.5 174,704.5 179,700.5" fill="none" stroke="#111" stroke-width="1.4" stroke-linejoin="round" stroke-linecap="round"/>
<path d="M176.0,684.6 L176.0,691.4 L163.0,694.8 L150.0,691.4 L150.0,684.6 L150.0,694.1 L150.0,700.9 L163.0,704.2 L176.0,700.9 L176.0,694.1 Z" fill="#fff" stroke="#111" stroke-width="1.4" stroke-linejoin="round"/>
<line x1="176.0" y1="691.4" x2="176.0" y2="700.9" stroke="#111" stroke-width="1.26"/>
<line x1="163.0" y1="694.8" x2="163.0" y2="704.2" stroke="#111" stroke-width="1.26"/>
<line x1="150.0" y1="691.4" x2="150.0" y2="700.9" stroke="#111" stroke-width="1.26"/>
<line x1="150.0" y1="684.6" x2="150.0" y2="694.1" stroke="#111" stroke-width="1.26"/>
<path d="M176.0,691.4 L163.0,694.8 L150.0,691.4 L150.0,684.6 L163.0,681.2 L176.0,684.6 Z" fill="#fff" stroke="#111" stroke-width="1.4" stroke-linejoin="round"/>
<ellipse cx="163.0" cy="688.0" rx="11.0" ry="5.0" fill="#fff" stroke="#111" stroke-width="2.0"/>
<ellipse cx="163.0" cy="688.6" rx="8.0" ry="3.6" fill="#fff" stroke="#111" stroke-width="1.2"/>
<ellipse cx="163.0" cy="689.0" rx="5.0" ry="2.2" fill="#fff" stroke="#111" stroke-width="1.0"/>
<ellipse cx="162.4" cy="727.6" rx="13.4" ry="6.4" fill="none" stroke="#111" stroke-width="1.8"/>
<ellipse cx="162.4" cy="727.6" rx="11.0" ry="5.3" fill="none" stroke="#111" stroke-width="1.0"/>
<ellipse cx="163.0" cy="765.0" rx="10.8" ry="4.9" fill="#fff" stroke="#111" stroke-width="1.6"/><path d="M173.8,765.0 L173.8,758.0 L152.2,758.0 L152.2,765.0 Z" fill="#fff"/><line x1="173.8" y1="765.0" x2="173.8" y2="758.0" stroke="#111" stroke-width="1.6"/><line x1="152.2" y1="765.0" x2="152.2" y2="758.0" stroke="#111" stroke-width="1.6"/><ellipse cx="163.0" cy="758.0" rx="10.8" ry="4.9" fill="#fff" stroke="#111" stroke-width="1.6"/>
<path d="M158.5,740 L161.5,737.5 L165,737.5 L168,740 L172,757.5 C166,760.5 160,760.5 154,757.5 Z" fill="#2a2a2a" stroke="#111" stroke-width="1.3" stroke-linejoin="round" stroke-linecap="round"/>
<path d="M159,743 L157,756 M163.2,740 L163.2,757.5 M167.5,743 L169.5,756" fill="none" stroke="#d8d8d8" stroke-width="1.3" stroke-linejoin="round" stroke-linecap="round"/>
<ellipse cx="163.0" cy="758.0" rx="10.8" ry="4.9" fill="none" stroke="#111" stroke-width="1.6"/>
<path d="M157.3,772 Q162.6,768.5 168,772 L168,786 Q162.6,789.5 157.3,786 Z" fill="#161616" stroke="#111" stroke-width="1.0" stroke-linejoin="round" stroke-linecap="round"/>
<line x1="158.0" y1="774.0" x2="167.0" y2="775.2" stroke="#444" stroke-width="0.6"/>
<line x1="158.0" y1="776.6" x2="167.0" y2="777.8" stroke="#444" stroke-width="0.6"/>
<line x1="158.0" y1="779.2" x2="167.0" y2="780.4" stroke="#444" stroke-width="0.6"/>
<line x1="158.0" y1="781.8" x2="167.0" y2="783.0" stroke="#444" stroke-width="0.6"/>
<line x1="158.0" y1="784.4" x2="167.0" y2="785.6" stroke="#444" stroke-width="0.6"/>
<ellipse cx="162.4" cy="797.5" rx="8.3" ry="4.0" fill="#fff" stroke="#111" stroke-width="1.8"/><path d="M170.7,797.5 L170.7,795.0 L154.1,795.0 L154.1,797.5 Z" fill="#fff"/><line x1="170.7" y1="797.5" x2="170.7" y2="795.0" stroke="#111" stroke-width="1.8"/><line x1="154.1" y1="797.5" x2="154.1" y2="795.0" stroke="#111" stroke-width="1.8"/><ellipse cx="162.4" cy="795.0" rx="8.3" ry="4.0" fill="#fff" stroke="#111" stroke-width="1.8"/>
<ellipse cx="162.4" cy="795.0" rx="4.5" ry="2.2" fill="#666" stroke="#111" stroke-width="1.2"/>
<ellipse cx="163.0" cy="819.0" rx="12.0" ry="5.8" fill="#fff" stroke="#111" stroke-width="1.6"/><path d="M175.0,819.0 L175.0,814.0 L151.0,814.0 L151.0,819.0 Z" fill="#fff"/><line x1="175.0" y1="819.0" x2="175.0" y2="814.0" stroke="#111" stroke-width="1.6"/><line x1="151.0" y1="819.0" x2="151.0" y2="814.0" stroke="#111" stroke-width="1.6"/><ellipse cx="163.0" cy="814.0" rx="12.0" ry="5.8" fill="#fff" stroke="#111" stroke-width="1.6"/>
<ellipse cx="163.0" cy="814.0" rx="12.0" ry="5.8" fill="#fff" stroke="#111" stroke-width="3.2"/>
<ellipse cx="163.0" cy="814.0" rx="8.3" ry="4.0" fill="#555" stroke="#111" stroke-width="1.4"/>
<ellipse cx="163.0" cy="814.0" rx="5.5" ry="2.6" fill="#888" stroke="#111" stroke-width="1.0"/>
<ellipse cx="162.4" cy="835.5" rx="12.6" ry="6.0" fill="none" stroke="#111" stroke-width="1.8"/>
<ellipse cx="162.4" cy="835.5" rx="10.4" ry="5.0" fill="none" stroke="#111" stroke-width="1.0"/>
<path d="M99.6,725.5 C92,725.5 90,727 90,733 L90,758 C90,762 88,764 85.5,764.7 C88,765.5 90,767 90,771 L90,795 C90,800 92,801.8 99.6,801.8" fill="none" stroke="#111" stroke-width="1.0" stroke-linejoin="round" stroke-linecap="round"/>
<ellipse cx="215.8" cy="801.8" rx="25.7" ry="32.7" fill="none" stroke="#111" stroke-width="1.2"/>
<line x1="189.0" y1="805.0" x2="189.0" y2="878.0" stroke="#111" stroke-width="1.0"/>
<path d="M189,805 L204,799" fill="none" stroke="#111" stroke-width="1.0" stroke-linejoin="round" stroke-linecap="round"/>
<ellipse cx="215.3" cy="801.0" rx="10.5" ry="5.0" fill="#fff" stroke="#111" stroke-width="1.2"/><path d="M225.8,801.0 L225.8,789.0 L204.8,789.0 L204.8,801.0 Z" fill="#fff"/><line x1="225.8" y1="801.0" x2="225.8" y2="789.0" stroke="#111" stroke-width="1.2"/><line x1="204.8" y1="801.0" x2="204.8" y2="789.0" stroke="#111" stroke-width="1.2"/><ellipse cx="215.3" cy="789.0" rx="10.5" ry="5.0" fill="#fff" stroke="#111" stroke-width="1.2"/>
<path d="M226.6,779.9 L226.6,786.1 L215.3,789.2 L204.0,786.1 L204.0,779.9 L204.0,786.9 L204.0,793.1 L215.3,796.2 L226.6,793.1 L226.6,786.9 Z" fill="#fff" stroke="#111" stroke-width="1.4" stroke-linejoin="round"/>
<line x1="226.6" y1="786.1" x2="226.6" y2="793.1" stroke="#111" stroke-width="1.26"/>
<line x1="215.3" y1="789.2" x2="215.3" y2="796.2" stroke="#111" stroke-width="1.26"/>
<line x1="204.0" y1="786.1" x2="204.0" y2="793.1" stroke="#111" stroke-width="1.26"/>
<line x1="204.0" y1="779.9" x2="204.0" y2="786.9" stroke="#111" stroke-width="1.26"/>
<path d="M226.6,786.1 L215.3,789.2 L204.0,786.1 L204.0,779.9 L215.3,776.8 L226.6,779.9 Z" fill="#fff" stroke="#111" stroke-width="1.4" stroke-linejoin="round"/>
<ellipse cx="215.3" cy="783.0" rx="8.5" ry="4.1" fill="#fff" stroke="#111" stroke-width="1.4"/>
<ellipse cx="215.3" cy="783.3" rx="5.2" ry="2.5" fill="#fff" stroke="#111" stroke-width="1.2"/>
<ellipse cx="215.3" cy="781.0" rx="13.2" ry="6.3" fill="none" stroke="#111" stroke-width="1.2"/>
<ellipse cx="216.4" cy="821.5" rx="12.5" ry="6.2" fill="none" stroke="#111" stroke-width="1.8"/>
<ellipse cx="216.4" cy="821.5" rx="10.3" ry="5.2" fill="none" stroke="#111" stroke-width="1.0"/>
<ellipse cx="103.5" cy="838.5" rx="11.0" ry="6.6" transform="rotate(-60 103.5 838.5)" fill="#fff" stroke="#111" stroke-width="1.5"/><path d="M109.0,829.0 L115.9,833.0 L104.9,852.0 L98.0,848.0 Z" fill="#fff"/><line x1="109.0" y1="829.0" x2="115.9" y2="833.0" stroke="#111" stroke-width="1.5"/><line x1="98.0" y1="848.0" x2="104.9" y2="852.0" stroke="#111" stroke-width="1.5"/><ellipse cx="110.4" cy="842.5" rx="11.0" ry="6.6" transform="rotate(-60 110.4 842.5)" fill="#fff" stroke="#111" stroke-width="1.5"/>
<ellipse cx="105.7" cy="839.8" rx="11.0" ry="6.6" transform="rotate(-60 105.7 839.8)" fill="none" stroke="#111" stroke-width="1.4"/>
<ellipse cx="107.4" cy="840.8" rx="11.0" ry="6.6" transform="rotate(-60 107.4 840.8)" fill="none" stroke="#111" stroke-width="2.2"/>
<ellipse cx="109.1" cy="841.8" rx="11.0" ry="6.6" transform="rotate(-60 109.1 841.8)" fill="none" stroke="#111" stroke-width="1.4"/>
<ellipse cx="110.4" cy="842.5" rx="8.6" ry="5.2" transform="rotate(-60 110.4 842.5)" fill="#fff" stroke="#111" stroke-width="1.4"/><path d="M114.7,835.1 L122.8,839.6 L114.2,854.4 L106.1,849.9 Z" fill="#fff"/><line x1="114.7" y1="835.1" x2="122.8" y2="839.6" stroke="#111" stroke-width="1.4"/><line x1="106.1" y1="849.9" x2="114.2" y2="854.4" stroke="#111" stroke-width="1.4"/><ellipse cx="118.5" cy="847.0" rx="8.6" ry="5.2" transform="rotate(-60 118.5 847.0)" fill="#fff" stroke="#111" stroke-width="1.4"/>
<ellipse cx="118.5" cy="847.0" rx="8.6" ry="5.2" transform="rotate(-60 118.5 847.0)" fill="#fff" stroke="#111" stroke-width="1.5"/>
<ellipse cx="129.2" cy="854.0" rx="11.0" ry="6.6" transform="rotate(-60 129.2 854.0)" fill="none" stroke="#111" stroke-width="2.4"/>
<ellipse cx="129.2" cy="854.0" rx="8.8" ry="5.3" transform="rotate(-60 129.2 854.0)" fill="none" stroke="#111" stroke-width="1.1"/>
<ellipse cx="133.0" cy="888.0" rx="5.5" ry="3.3" transform="rotate(-60 133.0 888.0)" fill="#fff" stroke="#111" stroke-width="1.6"/><ellipse cx="133.0" cy="888.0" rx="3.3" ry="2.0" transform="rotate(-60 133.0 888.0)" fill="#fff" stroke="#111" stroke-width="1.6"/>
<ellipse cx="128.0" cy="891.5" rx="4.0" ry="2.8" transform="rotate(60 128.0 891.5)" fill="#fff" stroke="#111" stroke-width="1.2"/><path d="M81.0,923.3 L130.0,895.0 L126.0,888.0 L77.0,916.3 Z" fill="#fff"/><line x1="81.0" y1="923.3" x2="130.0" y2="895.0" stroke="#111" stroke-width="1.2"/><line x1="77.0" y1="916.3" x2="126.0" y2="888.0" stroke="#111" stroke-width="1.2"/><ellipse cx="79.0" cy="919.8" rx="4.0" ry="2.8" transform="rotate(60 79.0 919.8)" fill="#fff" stroke="#111" stroke-width="1.2"/>
<ellipse cx="79.0" cy="919.8" rx="7.2" ry="5.0" transform="rotate(60 79.0 919.8)" fill="#fff" stroke="#111" stroke-width="1.3"/><path d="M78.6,928.2 L82.6,926.0 L75.4,913.6 L71.4,915.8 Z" fill="#fff"/><line x1="78.6" y1="928.2" x2="82.6" y2="926.0" stroke="#111" stroke-width="1.3"/><line x1="71.4" y1="915.8" x2="75.4" y2="913.6" stroke="#111" stroke-width="1.3"/><ellipse cx="75.0" cy="922.0" rx="7.2" ry="5.0" transform="rotate(60 75.0 922.0)" fill="#fff" stroke="#111" stroke-width="1.3"/>
<ellipse cx="75.0" cy="922.0" rx="4.5" ry="3.1" transform="rotate(60 75.0 922.0)" fill="#333" stroke="#111" stroke-width="1.8"/>
<line x1="105.0" y1="906.5" x2="106.5" y2="911.0" stroke="#111" stroke-width="1.0"/>
<line x1="107.0" y1="905.5" x2="108.5" y2="910.0" stroke="#111" stroke-width="1.0"/>
<ellipse cx="115.0" cy="1015.0" rx="13.0" ry="9.1" transform="rotate(60 115.0 1015.0)" fill="#fff" stroke="#111" stroke-width="1.2"/><path d="M107.1,1034.6 L121.5,1026.3 L108.5,1003.7 L94.1,1012.0 Z" fill="#fff"/><line x1="107.1" y1="1034.6" x2="121.5" y2="1026.3" stroke="#111" stroke-width="1.2"/><line x1="94.1" y1="1012.0" x2="108.5" y2="1003.7" stroke="#111" stroke-width="1.2"/><ellipse cx="100.6" cy="1023.3" rx="13.0" ry="9.1" transform="rotate(60 100.6 1023.3)" fill="#fff" stroke="#111" stroke-width="1.2"/>
<ellipse cx="106.0" cy="1020.2" rx="17.0" ry="11.9" transform="rotate(60 106.0 1020.2)" fill="#fff" stroke="#111" stroke-width="2.0"/><path d="M107.5,1038.9 L114.5,1034.9 L97.5,1005.5 L90.5,1009.5 Z" fill="#fff"/><line x1="107.5" y1="1038.9" x2="114.5" y2="1034.9" stroke="#111" stroke-width="2.0"/><line x1="90.5" y1="1009.5" x2="97.5" y2="1005.5" stroke="#111" stroke-width="2.0"/><ellipse cx="99.0" cy="1024.2" rx="17.0" ry="11.9" transform="rotate(60 99.0 1024.2)" fill="#fff" stroke="#111" stroke-width="2.0"/>
<ellipse cx="101.2" cy="1023.0" rx="17.0" ry="11.9" transform="rotate(60 101.2 1023.0)" fill="none" stroke="#111" stroke-width="1.3"/>
<ellipse cx="103.3" cy="1021.7" rx="17.0" ry="11.9" transform="rotate(60 103.3 1021.7)" fill="none" stroke="#111" stroke-width="1.3"/>
<ellipse cx="99.0" cy="1024.2" rx="15.0" ry="10.5" transform="rotate(60 99.0 1024.2)" fill="#fff" stroke="#111" stroke-width="1.6"/>
<path d="M109.7,1032.5 L107.8,1019.1 L97.1,1010.8 L88.3,1015.9 L90.2,1029.3 L100.9,1037.6 Z" fill="#fff" stroke="#111" stroke-width="1.3" stroke-linejoin="round"/>
<ellipse cx="98.0" cy="1024.8" rx="10.5" ry="7.3" transform="rotate(60 98.0 1024.8)" fill="#fff" stroke="#111" stroke-width="2.0"/>
<ellipse cx="97.5" cy="1025.1" rx="8.0" ry="5.6" transform="rotate(60 97.5 1025.1)" fill="#fff" stroke="#111" stroke-width="1.3"/>
<line x1="118.0" y1="1012.7" x2="178.0" y2="978.0" stroke="#111" stroke-width="1.0"/>
<ellipse cx="129.0" cy="1007.0" rx="13.0" ry="9.1" transform="rotate(60 129.0 1007.0)" fill="none" stroke="#111" stroke-width="2.2"/>
<ellipse cx="129.0" cy="1007.0" rx="10.8" ry="7.6" transform="rotate(60 129.0 1007.0)" fill="none" stroke="#111" stroke-width="1.0"/>
<path d="M141.8,993.6 L156.8,979.5 L167.2,997.7 L146.2,1001.4 Z" fill="#1e1e1e" stroke="#111" stroke-width="1.2" stroke-linejoin="round"/>
<ellipse cx="164.5" cy="987.2" rx="10.8" ry="7.6" transform="rotate(60 164.5 987.2)" fill="#1e1e1e" stroke="#111" stroke-width="1.6"/>
<ellipse cx="164.5" cy="987.2" rx="7.8" ry="5.5" transform="rotate(60 164.5 987.2)" fill="none" stroke="#666" stroke-width="1.0"/>
<line x1="146.5" y1="999.5" x2="154.5" y2="989.0" stroke="#bbb" stroke-width="1.2"/>
<line x1="149.5" y1="998.9" x2="157.0" y2="987.8" stroke="#bbb" stroke-width="1.2"/>
<line x1="152.5" y1="998.3" x2="159.5" y2="986.6" stroke="#bbb" stroke-width="1.2"/>
<line x1="155.5" y1="997.7" x2="162.0" y2="985.4" stroke="#bbb" stroke-width="1.2"/>
<ellipse cx="141.0" cy="999.3" rx="3.2" ry="2.2" transform="rotate(60 141.0 999.3)" fill="#333" stroke="#111" stroke-width="1.0"/><path d="M145.6,1000.3 L142.6,1002.1 L139.4,996.5 L142.4,994.7 Z" fill="#333"/><line x1="145.6" y1="1000.3" x2="142.6" y2="1002.1" stroke="#111" stroke-width="1.0"/><line x1="142.4" y1="994.7" x2="139.4" y2="996.5" stroke="#111" stroke-width="1.0"/><ellipse cx="144.0" cy="997.5" rx="3.2" ry="2.2" transform="rotate(60 144.0 997.5)" fill="#333" stroke="#111" stroke-width="1.0"/>
<ellipse cx="177.3" cy="980.0" rx="11.2" ry="7.8" transform="rotate(60 177.3 980.0)" fill="none" stroke="#111" stroke-width="1.8"/>
<ellipse cx="177.3" cy="980.0" rx="9.2" ry="6.4" transform="rotate(60 177.3 980.0)" fill="none" stroke="#111" stroke-width="1.0"/>
<ellipse cx="266.6" cy="969.5" rx="11.0" ry="7.7" transform="rotate(60 266.6 969.5)" fill="none" stroke="#111" stroke-width="2.0"/>
<ellipse cx="266.6" cy="969.5" rx="9.0" ry="6.3" transform="rotate(60 266.6 969.5)" fill="none" stroke="#111" stroke-width="1.0"/>
<ellipse cx="285.0" cy="980.3" rx="11.8" ry="8.3" transform="rotate(60 285.0 980.3)" fill="#fff" stroke="#111" stroke-width="1.3"/><path d="M298.9,985.7 L290.9,990.5 L279.1,970.1 L287.1,965.3 Z" fill="#fff"/><line x1="298.9" y1="985.7" x2="290.9" y2="990.5" stroke="#111" stroke-width="1.3"/><line x1="287.1" y1="965.3" x2="279.1" y2="970.1" stroke="#111" stroke-width="1.3"/><ellipse cx="293.0" cy="975.5" rx="11.8" ry="8.3" transform="rotate(60 293.0 975.5)" fill="#fff" stroke="#111" stroke-width="1.3"/>
<ellipse cx="285.0" cy="980.3" rx="11.8" ry="8.3" transform="rotate(60 285.0 980.3)" fill="#fff" stroke="#111" stroke-width="1.4"/>
<ellipse cx="284.0" cy="980.8" rx="8.5" ry="5.9" transform="rotate(60 284.0 980.8)" fill="none" stroke="#111" stroke-width="1.0"/>
<path d="M811.0,537.0 L826.0,528.0 L840.0,518.0 L849.0,508.0 L856.0,500.0 L866.0,506.0 L866.0,520.0 L861.0,537.0 L848.0,545.0 L836.0,553.0 L822.0,557.0 Z" fill="#fff" stroke="#111" stroke-width="1.3" stroke-linejoin="round"/>
<path d="M834,536 C842,531 850,525 857,515" fill="none" stroke="#111" stroke-width="1.0" stroke-linejoin="round" stroke-linecap="round"/>
<path d="M838,541 C846,536 853,530 859,522" fill="none" stroke="#111" stroke-width="1.0" stroke-linejoin="round" stroke-linecap="round"/>
<path d="M838,549 L859,536 M840,552 L861,539" fill="none" stroke="#111" stroke-width="1.2" stroke-linejoin="round" stroke-linecap="round"/>
<ellipse cx="875.0" cy="524.3" rx="15.5" ry="22.0" transform="rotate(-12 875.0 524.3)" fill="#fff" stroke="#111" stroke-width="2.4"/>
<ellipse cx="874.4" cy="524.3" rx="13.2" ry="19.6" transform="rotate(-12 874.4 524.3)" fill="none" stroke="#111" stroke-width="1.0"/>
<ellipse cx="876.0" cy="522.3" rx="10.8" ry="13.8" transform="rotate(-12 876.0 522.3)" fill="#fff" stroke="#111" stroke-width="1.6"/>
<line x1="866.0" y1="518.0" x2="868.0" y2="531.0" stroke="#111" stroke-width="1.0"/>
<line x1="866.0" y1="531.0" x2="878.0" y2="537.0" stroke="#111" stroke-width="1.0"/>
<ellipse cx="877.0" cy="493.3" rx="6.8" ry="4.8" transform="rotate(60 877.0 493.3)" fill="#fff" stroke="#111" stroke-width="1.6"/><path d="M861.9,509.9 L880.4,499.2 L873.6,487.4 L855.1,498.1 Z" fill="#fff"/><line x1="861.9" y1="509.9" x2="880.4" y2="499.2" stroke="#111" stroke-width="1.6"/><line x1="855.1" y1="498.1" x2="873.6" y2="487.4" stroke="#111" stroke-width="1.6"/><ellipse cx="858.5" cy="504.0" rx="6.8" ry="4.8" transform="rotate(60 858.5 504.0)" fill="#fff" stroke="#111" stroke-width="1.6"/>
<ellipse cx="866.0" cy="499.7" rx="7.2" ry="5.0" transform="rotate(60 866.0 499.7)" fill="none" stroke="#111" stroke-width="2.0"/>
<ellipse cx="862.0" cy="502.0" rx="6.8" ry="4.8" transform="rotate(60 862.0 502.0)" fill="none" stroke="#111" stroke-width="1.2"/>
<ellipse cx="858.5" cy="504.0" rx="6.8" ry="4.8" transform="rotate(60 858.5 504.0)" fill="#fff" stroke="#111" stroke-width="1.8"/>
<ellipse cx="858.8" cy="503.8" rx="3.4" ry="2.4" transform="rotate(60 858.8 503.8)" fill="#fff" stroke="#111" stroke-width="1.3"/>
<path d="M858,538 C857,544 862,548 868,547 C873,546 877,543 878,539" fill="#fff" stroke="#111" stroke-width="1.8" stroke-linejoin="round" stroke-linecap="round"/>
<line x1="862.0" y1="546.0" x2="864.0" y2="541.0" stroke="#111" stroke-width="1.2"/>
<ellipse cx="816.8" cy="543.6" rx="7.0" ry="9.4" transform="rotate(-25 816.8 543.6)" fill="#fff" stroke="#111" stroke-width="1.6"/>
<ellipse cx="818.4" cy="544.3" rx="3.6" ry="5.4" transform="rotate(-25 818.4 544.3)" fill="#fff" stroke="#111" stroke-width="1.3"/>
<ellipse cx="829.4" cy="550.3" rx="7.4" ry="8.8" transform="rotate(-25 829.4 550.3)" fill="#fff" stroke="#111" stroke-width="1.6"/>
<ellipse cx="831.2" cy="551.0" rx="3.6" ry="5.4" transform="rotate(-25 831.2 551.0)" fill="#fff" stroke="#111" stroke-width="1.3"/>
<path d="M822,535 C826,533 831,534 834,538" fill="none" stroke="#111" stroke-width="1.0" stroke-linejoin="round" stroke-linecap="round"/>
<path d="M929.5,399 C929.5,395 932,393.5 935,395 L1012,437 C1016,439 1018.2,443 1018.2,448 L1018.2,520 C1018.2,525 1015,527.5 1011,525.5 L935.5,482 C931,479.5 928.4,476 928.4,471 Z" fill="#fff" stroke="#111" stroke-width="1.4" stroke-linejoin="round" stroke-linecap="round"/>
<path d="M932,401 L1013,445 L1014.5,522" fill="none" stroke="#111" stroke-width="1.0" stroke-linejoin="round" stroke-linecap="round"/>
<line x1="939.0" y1="403.0" x2="1009.0" y2="441.0" stroke="#111" stroke-width="1.3"/>
<line x1="939.0" y1="404.8" x2="1009.0" y2="442.8" stroke="#111" stroke-width="0.9"/>
<line x1="939.0" y1="406.6" x2="1009.0" y2="444.6" stroke="#111" stroke-width="0.9"/>
<line x1="939.0" y1="408.4" x2="1009.0" y2="446.4" stroke="#111" stroke-width="1.3"/>
<line x1="1009.0" y1="441.0" x2="1010.0" y2="516.0" stroke="#111" stroke-width="1.2"/>
<line x1="1007.2" y1="441.9" x2="1008.2" y2="516.0" stroke="#111" stroke-width="0.9"/>
<line x1="1005.4" y1="442.8" x2="1006.4" y2="516.0" stroke="#111" stroke-width="1.2"/>
<path d="M937,412 L937,474 L1004,512" fill="none" stroke="#111" stroke-width="1.2" stroke-linejoin="round" stroke-linecap="round"/>
<path d="M941,416 L941,471 L1001,506 L1001,452" fill="none" stroke="#111" stroke-width="1.0" stroke-linejoin="round" stroke-linecap="round"/>
<line x1="943.0" y1="470.0" x2="1000.0" y2="503.0" stroke="#111" stroke-width="1.0"/>
<ellipse cx="932.5" cy="401.5" rx="1.9" ry="2.4" fill="#fff" stroke="#111" stroke-width="1.3"/>
<ellipse cx="1010.0" cy="446.0" rx="1.9" ry="2.4" fill="#fff" stroke="#111" stroke-width="1.3"/>
<ellipse cx="1011.0" cy="520.0" rx="1.9" ry="2.4" fill="#fff" stroke="#111" stroke-width="1.3"/>
<ellipse cx="935.0" cy="476.0" rx="1.9" ry="2.4" fill="#fff" stroke="#111" stroke-width="1.3"/>
<path d="M971,468 L970,486 M978,469 L979,486" fill="none" stroke="#111" stroke-width="1.3" stroke-linejoin="round" stroke-linecap="round"/>
<ellipse cx="974.5" cy="455.6" rx="11.8" ry="13.5" transform="rotate(-15 974.5 455.6)" fill="#fff" stroke="#111" stroke-width="1.5"/>
<ellipse cx="975.2" cy="456.2" rx="8.4" ry="10.0" transform="rotate(-15 975.2 456.2)" fill="#fff" stroke="#111" stroke-width="1.5"/>
<ellipse cx="976.0" cy="456.8" rx="6.6" ry="8.0" transform="rotate(-15 976.0 456.8)" fill="none" stroke="#111" stroke-width="0.8"/>
<ellipse cx="974.5" cy="490.0" rx="7.8" ry="8.5" transform="rotate(-12 974.5 490.0)" fill="#fff" stroke="#111" stroke-width="1.6"/>
<ellipse cx="975.5" cy="490.6" rx="5.2" ry="5.8" transform="rotate(-12 975.5 490.6)" fill="#fff" stroke="#111" stroke-width="1.0"/>
<line x1="980.7" y1="490.6" x2="983.1" y2="490.6" stroke="#111" stroke-width="1.0"/>
<line x1="978.1" y1="495.6" x2="979.3" y2="497.9" stroke="#111" stroke-width="1.0"/>
<line x1="972.9" y1="495.6" x2="971.7" y2="497.9" stroke="#111" stroke-width="1.0"/>
<line x1="970.3" y1="490.6" x2="967.9" y2="490.6" stroke="#111" stroke-width="1.0"/>
<line x1="972.9" y1="485.6" x2="971.7" y2="483.3" stroke="#111" stroke-width="1.0"/>
<line x1="978.1" y1="485.6" x2="979.3" y2="483.3" stroke="#111" stroke-width="1.0"/>
<ellipse cx="942.5" cy="413.0" rx="2.4" ry="2.8" fill="#fff" stroke="#111" stroke-width="1.3"/>
<ellipse cx="972.0" cy="431.0" rx="2.4" ry="2.8" fill="#fff" stroke="#111" stroke-width="1.3"/>
<ellipse cx="1004.0" cy="505.0" rx="2.4" ry="2.8" fill="#fff" stroke="#111" stroke-width="1.3"/>
<ellipse cx="971.0" cy="504.0" rx="2.4" ry="2.8" fill="#fff" stroke="#111" stroke-width="1.3"/>
<ellipse cx="951.0" cy="468.0" rx="3.5" ry="2.4" transform="rotate(60 951.0 468.0)" fill="#fff" stroke="#111" stroke-width="1.2"/><path d="M946.2,475.0 L952.8,471.0 L949.2,465.0 L942.8,469.0 Z" fill="#fff"/><line x1="946.2" y1="475.0" x2="952.8" y2="471.0" stroke="#111" stroke-width="1.2"/><line x1="942.8" y1="469.0" x2="949.2" y2="465.0" stroke="#111" stroke-width="1.2"/><ellipse cx="944.5" cy="472.0" rx="3.5" ry="2.4" transform="rotate(60 944.5 472.0)" fill="#fff" stroke="#111" stroke-width="1.2"/>
<path d="M925.4,412.5 L919,414 C916,415 914.8,417 914.8,420 L914.8,470 C915,476 917,480 921,483 C924,486 926,489 930,491 L986,523.5 C990,525.5 994,525 995.5,521.5 L996.9,466 C996.9,462 994,459 990,456.5 L929,417.5 C927,416 926,414 925.4,412.5 Z" fill="none" stroke="#111" stroke-width="1.7" stroke-linejoin="round" stroke-linecap="round"/>
<ellipse cx="1038.8" cy="422.0" rx="13.2" ry="9.2" transform="rotate(60 1038.8 422.0)" fill="#fff" stroke="#111" stroke-width="1.8"/><path d="M1038.4,437.4 L1045.4,433.4 L1032.2,410.6 L1025.2,414.6 Z" fill="#fff"/><line x1="1038.4" y1="437.4" x2="1045.4" y2="433.4" stroke="#111" stroke-width="1.8"/><line x1="1025.2" y1="414.6" x2="1032.2" y2="410.6" stroke="#111" stroke-width="1.8"/><ellipse cx="1031.8" cy="426.0" rx="13.2" ry="9.2" transform="rotate(60 1031.8 426.0)" fill="#fff" stroke="#111" stroke-width="1.8"/>
<ellipse cx="1033.6" cy="425.0" rx="13.2" ry="9.2" transform="rotate(60 1033.6 425.0)" fill="none" stroke="#111" stroke-width="1.0"/>
<ellipse cx="1035.3" cy="424.0" rx="13.2" ry="9.2" transform="rotate(60 1035.3 424.0)" fill="none" stroke="#111" stroke-width="1.0"/>
<ellipse cx="1037.0" cy="423.0" rx="13.2" ry="9.2" transform="rotate(60 1037.0 423.0)" fill="none" stroke="#111" stroke-width="1.0"/>
<ellipse cx="1031.8" cy="426.0" rx="10.5" ry="7.3" transform="rotate(60 1031.8 426.0)" fill="#fff" stroke="#111" stroke-width="1.8"/><path d="M1032.8,437.6 L1037.1,435.1 L1026.6,416.9 L1022.2,419.4 Z" fill="#fff"/><line x1="1032.8" y1="437.6" x2="1037.1" y2="435.1" stroke="#111" stroke-width="1.8"/><line x1="1022.2" y1="419.4" x2="1026.6" y2="416.9" stroke="#111" stroke-width="1.8"/><ellipse cx="1027.5" cy="428.5" rx="10.5" ry="7.3" transform="rotate(60 1027.5 428.5)" fill="#fff" stroke="#111" stroke-width="1.8"/>
<ellipse cx="1027.5" cy="428.5" rx="10.5" ry="7.3" transform="rotate(60 1027.5 428.5)" fill="#fff" stroke="#111" stroke-width="2.6"/>
<ellipse cx="1028.0" cy="428.2" rx="7.5" ry="5.2" transform="rotate(60 1028.0 428.2)" fill="#fff" stroke="#111" stroke-width="1.6"/>
<ellipse cx="1028.3" cy="428.0" rx="4.5" ry="3.1" transform="rotate(60 1028.3 428.0)" fill="#444" stroke="#111" stroke-width="1.8"/>
<ellipse cx="1052.3" cy="444.0" rx="9.0" ry="6.3" transform="rotate(60 1052.3 444.0)" fill="#fff" stroke="#111" stroke-width="1.5"/><path d="M1048.1,456.8 L1056.8,451.8 L1047.8,436.2 L1039.1,441.2 Z" fill="#fff"/><line x1="1048.1" y1="456.8" x2="1056.8" y2="451.8" stroke="#111" stroke-width="1.5"/><line x1="1039.1" y1="441.2" x2="1047.8" y2="436.2" stroke="#111" stroke-width="1.5"/><ellipse cx="1043.6" cy="449.0" rx="9.0" ry="6.3" transform="rotate(60 1043.6 449.0)" fill="#fff" stroke="#111" stroke-width="1.5"/>
<ellipse cx="1046.2" cy="447.5" rx="9.0" ry="6.3" transform="rotate(60 1046.2 447.5)" fill="none" stroke="#111" stroke-width="1.0"/>
<ellipse cx="1047.9" cy="446.5" rx="9.0" ry="6.3" transform="rotate(60 1047.9 446.5)" fill="none" stroke="#111" stroke-width="1.0"/>
<ellipse cx="1049.7" cy="445.5" rx="9.0" ry="6.3" transform="rotate(60 1049.7 445.5)" fill="none" stroke="#111" stroke-width="1.0"/>
<ellipse cx="1043.6" cy="449.0" rx="6.8" ry="4.8" transform="rotate(60 1043.6 449.0)" fill="#fff" stroke="#111" stroke-width="1.3"/><path d="M1044.4,456.4 L1047.0,454.9 L1040.2,443.1 L1037.6,444.6 Z" fill="#fff"/><line x1="1044.4" y1="456.4" x2="1047.0" y2="454.9" stroke="#111" stroke-width="1.3"/><line x1="1037.6" y1="444.6" x2="1040.2" y2="443.1" stroke="#111" stroke-width="1.3"/><ellipse cx="1041.0" cy="450.5" rx="6.8" ry="4.8" transform="rotate(60 1041.0 450.5)" fill="#fff" stroke="#111" stroke-width="1.3"/>
<ellipse cx="1041.0" cy="450.5" rx="6.8" ry="4.8" transform="rotate(60 1041.0 450.5)" fill="#fff" stroke="#111" stroke-width="1.4"/>
<ellipse cx="1032.0" cy="456.6" rx="5.6" ry="3.9" transform="rotate(60 1032.0 456.6)" fill="none" stroke="#111" stroke-width="1.6"/>
<ellipse cx="1032.0" cy="456.6" rx="4.0" ry="2.8" transform="rotate(60 1032.0 456.6)" fill="none" stroke="#111" stroke-width="0.8"/>
<ellipse cx="957.5" cy="388.0" rx="2.5" ry="1.8" transform="rotate(60 957.5 388.0)" fill="#fff" stroke="#111" stroke-width="1.2"/><path d="M949.8,395.5 L958.8,390.2 L956.2,385.8 L947.2,391.1 Z" fill="#fff"/><line x1="949.8" y1="395.5" x2="958.8" y2="390.2" stroke="#111" stroke-width="1.2"/><line x1="947.2" y1="391.1" x2="956.2" y2="385.8" stroke="#111" stroke-width="1.2"/><ellipse cx="948.5" cy="393.3" rx="2.5" ry="1.8" transform="rotate(60 948.5 393.3)" fill="#fff" stroke="#111" stroke-width="1.2"/>
<ellipse cx="963.0" cy="384.8" rx="4.0" ry="2.8" transform="rotate(60 963.0 384.8)" fill="#fff" stroke="#111" stroke-width="1.4"/><path d="M959.5,391.5 L965.0,388.3 L961.0,381.3 L955.5,384.5 Z" fill="#fff"/><line x1="959.5" y1="391.5" x2="965.0" y2="388.3" stroke="#111" stroke-width="1.4"/><line x1="955.5" y1="384.5" x2="961.0" y2="381.3" stroke="#111" stroke-width="1.4"/><ellipse cx="957.5" cy="388.0" rx="4.0" ry="2.8" transform="rotate(60 957.5 388.0)" fill="#fff" stroke="#111" stroke-width="1.4"/>
<ellipse cx="963.0" cy="384.8" rx="4.0" ry="2.8" transform="rotate(60 963.0 384.8)" fill="#fff" stroke="#111" stroke-width="1.6"/>
<ellipse cx="910.0" cy="474.3" rx="3.2" ry="2.2" transform="rotate(60 910.0 474.3)" fill="#fff" stroke="#111" stroke-width="1.2"/><path d="M893.1,487.8 L911.6,477.1 L908.4,471.5 L889.9,482.2 Z" fill="#fff"/><line x1="893.1" y1="487.8" x2="911.6" y2="477.1" stroke="#111" stroke-width="1.2"/><line x1="889.9" y1="482.2" x2="908.4" y2="471.5" stroke="#111" stroke-width="1.2"/><ellipse cx="891.5" cy="485.0" rx="3.2" ry="2.2" transform="rotate(60 891.5 485.0)" fill="#fff" stroke="#111" stroke-width="1.2"/>
<ellipse cx="891.5" cy="485.0" rx="2.2" ry="1.5" transform="rotate(60 891.5 485.0)" fill="#fff" stroke="#111" stroke-width="1.0"/>
<ellipse cx="916.0" cy="470.8" rx="4.8" ry="3.4" transform="rotate(60 916.0 470.8)" fill="#fff" stroke="#111" stroke-width="1.3"/><path d="M912.4,478.5 L918.4,475.0 L913.6,466.6 L907.6,470.1 Z" fill="#fff"/><line x1="912.4" y1="478.5" x2="918.4" y2="475.0" stroke="#111" stroke-width="1.3"/><line x1="907.6" y1="470.1" x2="913.6" y2="466.6" stroke="#111" stroke-width="1.3"/><ellipse cx="910.0" cy="474.3" rx="4.8" ry="3.4" transform="rotate(60 910.0 474.3)" fill="#fff" stroke="#111" stroke-width="1.3"/>
<ellipse cx="885.0" cy="489.0" rx="4.2" ry="2.9" transform="rotate(60 885.0 489.0)" fill="#fff" stroke="#111" stroke-width="1.4"/><ellipse cx="885.0" cy="489.0" rx="2.4" ry="1.7" transform="rotate(60 885.0 489.0)" fill="#fff" stroke="#111" stroke-width="1.4"/>
</svg></body></html>
